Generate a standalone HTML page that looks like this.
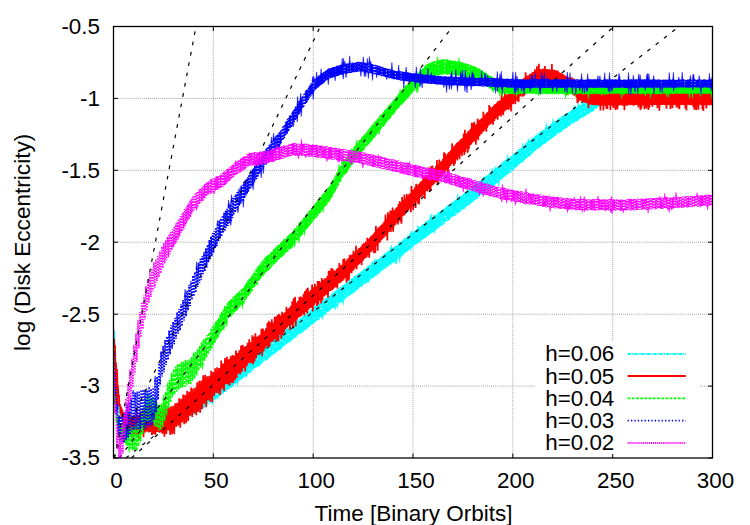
<!DOCTYPE html><html><head><meta charset="utf-8"><style>
html,body{margin:0;padding:0;background:#fff;}
#w{position:relative;width:750px;height:525px;overflow:hidden;background:#fff;font-family:"Liberation Sans",sans-serif;font-size:22.4px;color:#000;line-height:1;}
.t{position:absolute;white-space:nowrap;}
</style></head><body><div id="w">
<svg width="750" height="525" viewBox="0 0 750 525" style="position:absolute;left:0;top:0">
<rect width="750" height="525" fill="#fff"/>
<g stroke="#999" stroke-width="1" stroke-dasharray="0.9 1.13" fill="none">
<path d="M213.3,26.5 V458.0"/>
<path d="M313.2,26.5 V458.0"/>
<path d="M413.0,26.5 V458.0"/>
<path d="M512.8,26.5 V458.0"/>
<path d="M612.7,26.5 V458.0"/>
<path d="M113.5,98.4 H712.5"/>
<path d="M113.5,170.3 H712.5"/>
<path d="M113.5,242.2 H712.5"/>
<path d="M113.5,314.2 H712.5"/>
<path d="M113.5,386.1 H712.5"/>
</g>
<g stroke="#000" stroke-width="1" fill="none">
<path d="M113.5,458.0 v-4.5 M113.5,26.5 v4.5"/>
<path d="M213.3,458.0 v-4.5 M213.3,26.5 v4.5"/>
<path d="M313.2,458.0 v-4.5 M313.2,26.5 v4.5"/>
<path d="M413.0,458.0 v-4.5 M413.0,26.5 v4.5"/>
<path d="M512.8,458.0 v-4.5 M512.8,26.5 v4.5"/>
<path d="M612.7,458.0 v-4.5 M612.7,26.5 v4.5"/>
<path d="M712.5,458.0 v-4.5 M712.5,26.5 v4.5"/>
<path d="M113.5,26.5 h4.5 M712.5,26.5 h-4.5"/>
<path d="M113.5,98.4 h4.5 M712.5,98.4 h-4.5"/>
<path d="M113.5,170.3 h4.5 M712.5,170.3 h-4.5"/>
<path d="M113.5,242.2 h4.5 M712.5,242.2 h-4.5"/>
<path d="M113.5,314.2 h4.5 M712.5,314.2 h-4.5"/>
<path d="M113.5,386.1 h4.5 M712.5,386.1 h-4.5"/>
<path d="M113.5,458.0 h4.5 M712.5,458.0 h-4.5"/>
</g>
<clipPath id="c"><rect x="113.5" y="26.5" width="599.0" height="431.5"/></clipPath>
<g clip-path="url(#c)">
<path d="M113.5,329 L115,331 L116,352 L113.5,352 Z" fill="#00ffff"/>
<path d="M113.5,334.0 L114.0,337.4 L114.5,352.9 L115.0,356.9 L115.5,373.3 L116.0,376.7 L116.5,389.2 L117.0,389.5 L117.5,401.7 L118.0,401.8 L118.5,409.9 L119.0,405.3 L119.5,414.0 L120.0,409.0 L120.5,417.7 L121.0,412.5 L121.5,419.5 L122.0,412.8 L122.5,420.1 L123.0,413.3 L123.5,420.7 L124.0,413.5 L124.5,421.3 L125.0,414.2 L125.5,421.9 L126.0,414.2 L126.5,422.2 L127.0,414.9 L127.5,422.8 L128.0,414.8 L128.5,423.7 L129.0,415.4 L129.5,424.2 L130.0,415.6 L130.5,424.1 L131.0,416.0 L131.5,424.4 L132.0,415.7 L132.5,424.2 L133.0,415.8 L133.5,424.4 L134.0,415.6 L134.5,424.3 L135.0,415.6 L135.5,424.5 L136.0,415.1 L136.5,424.7 L137.0,415.5 L137.5,424.5 L138.0,415.3 L138.5,424.6 L139.0,415.4 L139.5,424.9 L140.0,415.4 L140.5,424.9 L141.0,415.1 L141.5,425.2 L142.0,414.8 L142.5,425.2 L143.0,414.7 L143.5,425.0 L144.0,414.7 L144.5,425.1 L145.0,414.7 L145.5,425.1 L146.0,414.8 L146.5,424.9 L147.0,414.9 L147.5,425.8 L148.0,414.8 L148.5,425.6 L149.0,414.4 L149.5,425.7 L150.0,414.5 L150.5,425.6 L151.0,414.6 L151.5,425.0 L152.0,414.3 L152.5,425.0 L153.0,414.2 L153.5,424.9 L154.0,413.5 L154.5,424.9 L155.0,412.9 L155.5,425.3 L156.0,413.1 L156.5,425.2 L157.0,413.2 L157.5,425.3 L158.0,412.4 L158.5,425.1 L159.0,412.5 L159.5,425.1 L160.0,412.0 L160.5,424.8 L161.0,411.7 L161.5,424.7 L162.0,412.0 L162.5,424.5 L163.0,412.0 L163.5,424.1 L164.0,411.2 L164.5,424.6 L165.0,410.7 L165.5,424.6 L166.0,411.0 L166.5,423.7 L167.0,410.8 L167.5,424.5 L168.0,410.3 L168.5,424.0 L169.0,410.4 L169.5,423.6 L170.0,410.5 L170.5,423.2 L171.0,409.1 L171.5,423.5 L172.0,409.3 L172.6,422.9 L173.1,408.8 L173.6,422.3 L174.2,407.4 L174.7,422.4 L175.3,407.0 L175.9,421.6 L176.5,406.1 L177.0,422.1 L177.6,405.7 L178.2,420.5 L178.9,405.4 L179.5,420.1 L180.1,403.5 L180.7,420.3 L181.4,402.9 L182.0,419.4 L182.7,402.9 L183.4,419.6 L184.0,401.2 L184.7,418.7 L185.4,401.6 L186.1,418.7 L186.8,400.5 L187.5,417.8 L188.2,400.0 L188.9,417.0 L189.6,398.2 L190.3,416.3 L191.0,398.2 L191.7,415.6 L192.4,397.7 L193.1,414.2 L193.8,396.6 L194.5,414.3 L195.2,396.2 L195.9,413.5 L196.6,394.6 L197.3,412.9 L198.0,394.4 L198.7,411.1 L199.4,393.9 L200.1,411.2 L200.8,391.9 L201.5,410.0 L202.2,391.6 L202.9,408.3 L203.6,390.1 L204.3,408.1 L205.0,390.2 L205.7,406.1 L206.4,388.1 L207.1,406.0 L207.7,387.9 L208.4,404.2 L209.1,386.7 L209.8,403.5 L210.5,386.2 L211.2,402.9 L211.8,384.6 L212.5,401.8 L213.2,384.1 L213.9,401.0 L214.6,382.4 L215.2,399.2 L215.9,381.2 L216.6,398.6 L217.2,380.3 L217.9,396.7 L218.6,380.5 L219.2,396.7 L219.9,379.2 L220.6,395.4 L221.2,378.4 L221.9,395.0 L222.6,377.0 L223.2,393.8 L223.9,376.6 L224.5,392.3 L225.2,375.7 L225.8,391.9 L226.5,374.3 L227.2,389.8 L227.8,373.8 L228.5,389.5 L229.1,372.9 L229.8,388.0 L230.4,371.4 L231.1,387.4 L231.7,370.2 L232.3,386.6 L233.0,369.5 L233.6,385.5 L234.3,368.8 L234.9,384.1 L235.6,366.9 L236.2,382.9 L236.9,366.7 L237.5,382.0 L238.2,365.4 L238.8,380.7 L239.4,365.0 L240.1,380.3 L240.7,363.8 L241.4,379.6 L242.0,362.0 L242.6,378.5 L243.3,361.1 L243.9,377.2 L244.6,361.0 L245.2,376.3 L245.8,359.6 L246.5,375.5 L247.1,358.9 L247.8,374.0 L248.4,357.1 L249.0,373.0 L249.7,356.6 L250.3,373.0 L250.9,355.8 L251.6,370.9 L252.2,354.3 L252.8,370.5 L253.5,353.4 L254.1,368.8 L254.7,352.7 L255.4,367.8 L256.0,352.0 L256.6,367.7 L257.3,351.3 L257.9,366.2 L258.5,349.1 L259.1,366.1 L259.8,348.8 L260.4,364.8 L261.0,347.6 L261.6,363.5 L262.3,346.4 L262.9,362.1 L263.5,345.5 L264.2,361.0 L264.8,344.5 L265.4,360.9 L266.0,344.1 L266.7,359.9 L267.3,343.1 L267.9,359.1 L268.5,342.6 L269.1,357.8 L269.8,340.7 L270.4,357.3 L271.0,340.6 L271.6,355.5 L272.2,338.8 L272.9,354.7 L273.5,338.9 L274.1,354.2 L274.7,337.5 L275.3,353.3 L276.0,336.5 L276.6,352.0 L277.2,335.6 L277.8,350.8 L278.4,334.1 L279.0,350.3 L279.6,333.3 L280.3,349.7 L280.9,333.1 L281.5,348.7 L282.1,331.3 L282.7,347.3 L283.3,330.8 L283.9,345.8 L284.5,329.6 L285.2,344.9 L285.8,329.0 L286.4,343.9 L287.0,328.6 L287.6,343.6 L288.2,327.2 L288.8,342.7 L289.4,325.8 L290.0,342.2 L290.6,325.8 L291.2,340.8 L291.8,324.3 L292.5,339.9 L293.1,323.4 L293.7,338.8 L294.3,322.1 L294.9,337.8 L295.5,321.6 L296.1,337.1 L296.7,321.2 L297.3,335.9 L297.9,320.3 L298.5,334.5 L299.1,319.5 L299.7,333.7 L300.3,318.3 L300.9,333.2 L301.5,316.9 L302.1,332.6 L302.7,316.1 L303.3,331.8 L303.9,315.3 L304.5,330.7 L305.1,314.2 L305.7,329.6 L306.3,313.7 L306.9,329.1 L307.5,312.1 L308.1,327.1 L308.7,311.5 L309.3,327.3 L309.9,311.2 L310.4,325.5 L311.0,309.4 L311.6,324.2 L312.2,308.5 L312.8,324.0 L313.4,307.6 L314.0,323.1 L314.6,306.4 L315.2,321.9 L315.8,306.0 L316.4,320.6 L317.0,305.1 L317.6,320.1 L318.2,303.7 L318.7,319.9 L319.3,303.8 L319.9,317.8 L320.5,303.0 L321.1,317.1 L321.7,301.3 L322.3,316.6 L322.9,300.6 L323.5,315.6 L324.1,300.4 L324.6,314.6 L325.2,298.3 L325.8,314.3 L326.4,297.9 L327.0,312.6 L327.6,296.6 L328.2,311.9 L328.7,296.0 L329.3,310.8 L329.9,295.5 L330.5,310.0 L331.1,294.5 L331.7,308.7 L332.3,293.3 L332.8,308.0 L333.4,292.5 L334.0,307.7 L334.6,291.5 L335.2,306.4 L335.8,291.1 L336.3,306.0 L336.9,290.1 L337.5,304.4 L338.1,288.5 L338.7,303.3 L339.2,287.7 L339.8,302.8 L340.4,287.4 L341.0,302.7 L341.6,286.5 L342.1,301.5 L342.7,285.6 L343.3,300.8 L343.9,284.4 L344.5,299.4 L345.0,284.3 L345.6,298.4 L346.2,282.9 L346.8,297.4 L347.3,282.0 L347.9,296.4 L348.5,281.2 L349.1,296.0 L349.6,280.1 L350.2,295.3 L350.8,279.1 L351.4,294.1 L351.9,278.6 L352.5,293.8 L353.1,277.9 L353.7,292.7 L354.2,276.2 L354.8,292.1 L355.4,275.9 L356.0,290.4 L356.5,275.0 L357.1,290.0 L357.7,274.2 L358.2,288.7 L358.8,273.4 L359.4,287.5 L360.0,272.8 L360.5,286.7 L361.1,271.5 L361.7,286.9 L362.2,271.2 L362.8,284.9 L363.4,269.7 L363.9,284.4 L364.5,269.1 L365.1,283.2 L365.6,268.6 L366.2,283.1 L366.8,267.3 L367.3,282.4 L367.9,266.0 L368.5,280.9 L369.0,265.5 L369.6,280.2 L370.2,264.8 L370.7,279.3 L371.3,263.4 L371.9,278.7 L372.4,263.6 L373.0,277.9 L373.6,261.7 L374.1,277.3 L374.7,261.4 L375.2,275.4 L375.8,260.3 L376.4,275.7 L376.9,259.5 L377.5,274.2 L378.1,259.1 L378.6,273.8 L379.2,258.6 L379.7,273.0 L380.3,257.3 L380.9,271.2 L381.4,256.1 L382.0,270.8 L382.5,256.1 L383.1,269.7 L383.7,254.4 L384.2,268.8 L384.8,253.6 L385.3,268.8 L385.9,253.6 L386.4,267.5 L387.0,252.0 L387.6,266.7 L388.1,251.0 L388.7,265.7 L389.2,250.5 L389.8,264.7 L390.3,249.4 L390.9,264.6 L391.4,248.9 L392.0,263.2 L392.5,248.4 L393.1,262.7 L393.7,247.8 L394.2,261.7 L394.8,246.8 L395.3,260.7 L395.9,245.9 L396.4,260.4 L397.0,245.3 L397.5,258.9 L398.1,244.5 L398.6,257.8 L399.2,243.4 L399.7,258.0 L400.3,241.9 L400.8,256.7 L401.4,241.6 L401.9,256.2 L402.5,240.5 L403.0,254.9 L403.6,239.5 L404.1,253.4 L404.7,238.3 L405.2,252.5 L405.8,237.8 L406.3,252.6 L406.9,236.8 L407.4,251.0 L408.0,235.7 L408.6,250.7 L409.1,234.9 L409.7,248.8 L410.2,233.6 L410.8,247.8 L411.3,232.9 L411.9,248.0 L412.4,232.7 L413.0,246.7 L413.6,231.2 L414.1,245.4 L414.7,230.9 L415.2,244.5 L415.8,230.1 L416.3,243.7 L416.9,229.1 L417.5,243.6 L418.0,227.8 L418.6,242.8 L419.1,227.0 L419.7,242.0 L420.3,226.8 L420.8,240.9 L421.4,226.1 L421.9,240.0 L422.5,224.2 L423.1,239.1 L423.6,224.1 L424.2,238.1 L424.7,223.1 L425.3,238.0 L425.9,221.5 L426.4,237.0 L427.0,220.7 L427.6,236.1 L428.1,220.7 L428.7,234.9 L429.3,219.3 L429.8,234.4 L430.4,218.5 L430.9,233.3 L431.5,218.3 L432.1,233.0 L432.6,217.4 L433.2,232.2 L433.8,216.6 L434.3,231.4 L434.9,215.4 L435.5,230.3 L436.0,215.0 L436.6,229.0 L437.2,213.9 L437.8,228.5 L438.3,212.5 L438.9,227.3 L439.5,211.6 L440.0,227.1 L440.6,211.5 L441.2,225.8 L441.7,209.9 L442.3,225.0 L442.9,209.6 L443.5,224.4 L444.0,208.7 L444.6,223.5 L445.2,207.6 L445.7,221.8 L446.3,206.3 L446.9,220.9 L447.5,205.5 L448.0,220.7 L448.6,204.5 L449.2,220.1 L449.8,204.2 L450.3,218.4 L450.9,203.5 L451.5,217.4 L452.1,202.2 L452.6,216.6 L453.2,201.9 L453.8,216.0 L454.4,200.7 L454.9,215.6 L455.5,199.8 L456.1,214.6 L456.7,199.4 L457.3,213.5 L457.8,198.4 L458.4,213.1 L459.0,197.7 L459.6,212.1 L460.1,196.0 L460.7,211.1 L461.3,195.9 L461.9,209.9 L462.5,194.7 L463.1,209.0 L463.6,193.8 L464.2,209.0 L464.8,192.2 L465.4,207.9 L466.0,191.4 L466.5,206.4 L467.1,190.2 L467.7,205.6 L468.3,190.2 L468.9,205.0 L469.5,189.2 L470.0,204.2 L470.6,187.7 L471.2,202.6 L471.8,187.1 L472.4,202.3 L473.0,185.9 L473.6,201.1 L474.2,185.6 L474.7,199.9 L475.3,184.0 L475.9,199.2 L476.5,183.1 L477.1,198.6 L477.7,182.6 L478.3,196.9 L478.9,181.3 L479.4,196.3 L480.0,180.5 L480.6,195.1 L481.2,180.1 L481.8,194.6 L482.4,178.5 L483.0,193.3 L483.6,177.4 L484.2,193.3 L484.8,176.6 L485.4,192.2 L485.9,176.2 L486.5,190.5 L487.1,175.2 L487.7,189.6 L488.3,174.1 L488.9,189.5 L489.5,173.4 L490.1,188.6 L490.7,172.2 L491.3,186.8 L491.9,171.0 L492.5,186.3 L493.1,170.5 L493.7,185.4 L494.3,168.7 L494.9,184.8 L495.5,168.6 L496.1,184.1 L496.7,167.8 L497.3,182.5 L497.9,166.6 L498.5,182.3 L499.1,166.2 L499.7,180.9 L500.3,164.5 L500.9,179.3 L501.5,163.4 L502.1,179.2 L502.7,162.3 L503.3,177.3 L503.9,161.4 L504.4,176.7 L505.0,160.3 L505.6,176.0 L506.2,160.4 L506.8,175.2 L507.4,158.8 L508.0,173.9 L508.6,157.8 L509.2,172.9 L509.8,157.6 L510.4,172.6 L511.0,156.4 L511.5,170.8 L512.1,155.7 L512.7,170.4 L513.3,153.7 L513.9,169.1 L514.5,152.8 L515.1,167.9 L515.6,152.4 L516.2,166.9 L516.8,151.5 L517.4,166.2 L518.0,150.5 L518.6,164.6 L519.1,149.1 L519.7,163.9 L520.3,148.5 L520.9,162.8 L521.5,148.0 L522.0,162.4 L522.6,146.6 L523.2,161.7 L523.8,146.1 L524.3,160.6 L524.9,145.2 L525.5,158.9 L526.1,144.2 L526.6,158.3 L527.2,142.9 L527.8,157.1 L528.3,141.2 L528.9,156.4 L529.5,140.3 L530.0,155.9 L530.6,140.1 L531.2,154.6 L531.8,139.3 L532.3,153.3 L532.9,137.7 L533.4,152.6 L534.0,137.5 L534.6,151.0 L535.1,135.8 L535.7,150.8 L536.3,135.0 L536.8,149.3 L537.4,133.9 L537.9,148.8 L538.5,133.7 L539.1,147.3 L539.6,132.2 L540.2,147.4 L540.7,131.5 L541.3,145.7 L541.9,130.5 L542.4,144.8 L543.0,129.8 L543.5,144.3 L544.1,129.8 L544.6,143.6 L545.2,128.4 L545.7,143.3 L546.3,127.4 L546.8,141.7 L547.4,126.7 L547.9,140.9 L548.5,125.9 L549.0,140.5 L549.6,125.2 L550.1,139.2 L550.7,124.3 L551.2,138.8 L551.8,123.5 L552.3,137.4 L552.8,122.7 L553.4,137.7 L553.9,122.1 L554.5,136.0 L555.0,121.0 L555.6,135.7 L556.1,121.0 L556.6,135.0 L557.2,119.5 L557.7,133.6 L558.3,119.1 L558.8,133.4 L559.3,117.9 L559.9,131.9 L560.4,117.7 L560.9,132.0 L561.5,116.7 L562.0,131.3 L562.5,116.0 L563.1,130.3 L563.6,115.3 L564.1,129.0 L564.7,114.2 L565.2,128.6 L565.7,114.5 L566.3,128.2 L566.8,112.9 L567.3,127.2 L567.9,112.9 L568.4,126.5 L568.9,111.9 L569.4,126.0 L570.0,111.4 L570.5,124.7 L571.0,110.8 L571.5,123.7 L572.1,109.9 L572.6,123.8 L573.1,109.2 L573.6,122.7 L574.2,107.9 L574.7,122.5 L575.2,107.2 L575.7,121.3 L576.2,107.5 L576.8,121.4 L577.3,107.0 L577.8,120.6 L578.3,105.4 L578.8,119.8 L579.3,105.1 L579.9,118.8 L580.4,104.8 L580.9,117.8 L581.4,104.1 L581.9,117.6 L582.4,103.6 L582.9,117.5 L583.5,102.1 L584.0,116.1 L584.5,102.0 L585.0,116.1 L585.5,101.4 L586.0,114.9 L586.5,100.5 L587.0,114.4 L587.5,100.1 L588.0,114.1 L588.5,99.9 L589.0,113.3 L589.5,99.3 L590.1,112.7 L590.6,98.7 L591.1,112.2 L591.6,98.0 L592.1,111.8 L592.6,97.6 L593.1,110.9 L593.6,96.2 L594.1,110.4 L594.6,96.0 L595.1,109.2 L595.6,95.5 L596.1,108.6 L596.6,94.3 L597.1,107.4 L597.6,93.8 L598.1,106.9 L598.6,93.1 L599.1,105.1 L599.6,92.8 L600.1,104.9 L600.6,91.7 L601.1,103.8 L601.6,91.1 L602.1,102.4 L602.6,90.0 L603.1,101.9 L603.6,89.9 L604.1,101.5 L604.6,90.0 L605.1,101.6 L605.6,88.9 L606.1,100.3 L606.6,89.5 L607.1,100.2 L607.6,88.4 L608.1,99.8 L608.6,88.3 L609.1,99.3 L609.6,88.4 L610.1,99.3 L610.6,88.0 L611.1,98.4 L611.6,88.0 L612.1,98.3 L612.6,87.8 L613.1,97.5 L613.6,87.7 L614.1,97.5 L614.6,87.4 L615.1,96.6 L615.6,87.3 L616.1,97.3 L616.6,86.7 L617.1,96.9 L617.6,87.3 L618.1,96.9 L618.6,86.8 L619.1,97.0 L619.6,86.8 L620.1,97.2 L620.6,86.8 L621.1,97.2 L621.6,87.1 L622.1,96.6 L622.6,86.9 L623.1,97.3 L623.6,87.0 L624.1,96.7 L624.6,86.8 L625.1,97.2 L625.6,86.8 L626.1,97.0 L626.6,86.7 L627.1,96.7 L627.6,87.0 L628.1,97.3 L628.6,86.7 L629.1,97.1 L629.6,87.0 L630.1,97.0 L630.6,87.2 L631.1,96.7 L631.6,86.8 L632.1,97.0 L632.6,87.2 L633.1,96.8 L633.6,87.4 L634.1,96.6 L634.6,87.0 L635.1,96.7 L635.6,87.2 L636.1,97.2 L636.6,87.4 L637.1,97.3 L637.6,87.2 L638.1,97.2 L638.6,86.8 L639.1,97.0 L639.6,87.5 L640.1,97.0 L640.6,87.1 L641.1,96.7 L641.6,87.1 L642.1,97.0 L642.6,87.2 L643.1,96.8 L643.6,87.3 L644.1,96.6 L644.6,87.0 L645.1,97.3 L645.6,87.4 L646.1,97.0 L646.6,87.0 L647.1,97.1 L647.6,87.2 L648.1,96.7 L648.6,87.3 L649.1,97.2 L649.6,86.8 L650.1,97.2 L650.6,87.3 L651.1,96.8 L651.6,87.3 L652.1,97.0 L652.6,87.3 L653.1,97.1 L653.6,86.9 L654.1,96.9 L654.6,87.4 L655.1,96.7 L655.6,87.0 L656.1,97.1 L656.6,87.3 L657.1,97.0 L657.6,86.8 L658.1,97.1 L658.6,86.8 L659.1,97.3 L659.6,87.3 L660.1,96.7 L660.6,86.8 L661.1,96.8 L661.6,87.4 L662.1,97.0 L662.6,87.1 L663.1,96.7 L663.6,86.8 L664.1,96.9 L664.6,86.7 L665.1,96.7 L665.6,87.5 L666.1,97.2 L666.6,87.3 L667.1,97.2 L667.6,87.1 L668.1,97.1 L668.6,87.4 L669.1,96.7 L669.6,87.0 L670.1,97.3 L670.6,86.8 L671.1,97.2 L671.6,86.9 L672.1,97.3 L672.6,87.3 L673.1,96.6 L673.6,87.3 L674.1,97.0 L674.6,87.2 L675.1,96.5 L675.6,87.4 L676.1,96.7 L676.6,87.2 L677.1,96.8 L677.6,87.0 L678.1,97.0 L678.6,86.8 L679.1,96.8 L679.6,86.7 L680.1,96.8 L680.6,87.2 L681.1,96.8 L681.6,86.9 L682.1,97.1 L682.6,87.2 L683.1,96.8 L683.6,87.4 L684.1,96.7 L684.6,87.4 L685.1,96.8 L685.6,87.3 L686.1,97.0 L686.6,86.9 L687.1,96.9 L687.6,87.1 L688.1,96.8 L688.6,86.7 L689.1,97.3 L689.6,87.0 L690.1,97.2 L690.6,87.2 L691.1,97.0 L691.6,87.2 L692.1,97.3 L692.6,87.0 L693.1,97.2 L693.6,87.0 L694.1,96.6 L694.6,87.3 L695.1,97.0 L695.6,86.8 L696.1,97.0 L696.6,87.2 L697.1,97.0 L697.6,87.0 L698.1,97.3 L698.6,87.0 L699.1,96.5 L699.6,86.7 L700.1,96.6 L700.6,87.2 L701.1,97.3 L701.6,87.0 L702.1,97.0 L702.6,87.2 L703.1,96.8 L703.6,87.3 L704.1,97.1 L704.6,87.2 L705.1,96.6 L705.6,87.3 L706.1,96.6 L706.6,86.8 L707.1,96.7 L707.6,87.3 L708.1,97.0 L708.6,87.3 L709.1,97.1 L709.6,87.0 L710.1,97.0 L710.6,87.1 L711.1,96.8 L711.6,87.1 L712.1,97.1 L712.6,87.5" fill="none" stroke="#00ffff" stroke-width="1.5" stroke-linejoin="miter" stroke-miterlimit="2" stroke-dasharray="5 1.2 1.2 1.2"/><path d="M125.3,415.2 L126.0,410.0 L126.7,415.2ZM126.3,415.9 L127.0,413.1 L127.7,415.9ZM131.8,423.2 L132.5,428.0 L133.2,423.2ZM153.8,423.9 L154.5,429.6 L155.2,423.9ZM158.8,424.1 L159.5,428.5 L160.2,424.1ZM159.8,423.8 L160.5,427.8 L161.2,423.8ZM160.3,412.7 L161.0,407.5 L161.7,412.7ZM161.3,413.0 L162.0,410.0 L162.7,413.0ZM166.3,411.8 L167.0,405.9 L167.7,411.8ZM175.8,407.1 L176.5,403.4 L177.2,407.1ZM180.7,403.9 L181.4,400.4 L182.1,403.9ZM209.8,387.2 L210.5,383.1 L211.2,387.2ZM211.8,400.8 L212.5,405.1 L213.2,400.8ZM217.2,395.7 L217.9,398.6 L218.6,395.7ZM219.2,380.2 L219.9,374.8 L220.6,380.2ZM232.3,370.5 L233.0,365.8 L233.7,370.5ZM236.8,381.0 L237.5,386.0 L238.2,381.0ZM245.8,374.5 L246.5,377.6 L247.2,374.5ZM250.2,356.8 L250.9,351.8 L251.6,356.8ZM264.1,345.5 L264.8,342.7 L265.5,345.5ZM289.9,326.8 L290.6,324.3 L291.3,326.8ZM321.6,315.6 L322.3,319.7 L323.0,315.6ZM334.5,305.4 L335.2,309.8 L335.9,305.4ZM336.8,303.4 L337.5,308.2 L338.2,303.4ZM342.6,299.8 L343.3,304.9 L344.0,299.8ZM367.8,279.9 L368.5,283.0 L369.2,279.9ZM371.7,264.6 L372.4,260.8 L373.1,264.6ZM374.0,262.4 L374.7,259.1 L375.4,262.4ZM389.6,250.4 L390.3,247.3 L391.0,250.4ZM390.7,249.9 L391.4,244.8 L392.1,249.9ZM394.6,259.7 L395.3,264.0 L396.0,259.7ZM395.7,259.4 L396.4,264.0 L397.1,259.4ZM398.5,244.4 L399.2,241.6 L399.9,244.4ZM399.0,257.0 L399.7,262.9 L400.4,257.0ZM410.1,246.8 L410.8,250.4 L411.5,246.8ZM410.6,233.9 L411.3,230.6 L412.0,233.9ZM417.3,228.8 L418.0,225.5 L418.7,228.8ZM429.7,219.5 L430.4,214.8 L431.1,219.5ZM430.8,219.3 L431.5,213.9 L432.2,219.3ZM433.1,217.6 L433.8,214.5 L434.5,217.6ZM433.6,230.4 L434.3,233.4 L435.0,230.4ZM457.1,199.4 L457.8,193.9 L458.5,199.4ZM491.2,172.0 L491.9,168.0 L492.6,172.0ZM493.0,184.4 L493.7,187.0 L494.4,184.4ZM494.8,169.6 L495.5,166.4 L496.2,169.6ZM497.8,181.3 L498.5,186.2 L499.2,181.3ZM506.7,159.8 L507.4,154.6 L508.1,159.8ZM521.9,147.6 L522.6,143.1 L523.3,147.6ZM525.4,145.2 L526.1,142.7 L526.8,145.2ZM527.6,142.2 L528.3,138.9 L529.0,142.2ZM531.1,140.3 L531.8,137.7 L532.5,140.3ZM545.6,128.4 L546.3,122.5 L547.0,128.4ZM552.1,123.7 L552.8,118.6 L553.5,123.7ZM573.5,108.9 L574.2,105.2 L574.9,108.9ZM577.6,106.4 L578.3,102.2 L579.0,106.4ZM602.9,90.9 L603.6,85.9 L604.3,90.9ZM604.9,89.9 L605.6,86.0 L606.3,89.9ZM605.4,99.3 L606.1,103.4 L606.8,99.3ZM616.4,95.9 L617.1,100.1 L617.8,95.9ZM620.4,96.2 L621.1,101.0 L621.8,96.2ZM629.9,88.2 L630.6,83.4 L631.3,88.2ZM636.4,96.3 L637.1,100.6 L637.8,96.3ZM648.9,87.8 L649.6,82.4 L650.3,87.8ZM652.9,87.9 L653.6,83.0 L654.3,87.9ZM655.9,88.3 L656.6,85.3 L657.3,88.3ZM660.9,88.4 L661.6,84.2 L662.3,88.4ZM665.4,96.2 L666.1,99.3 L666.8,96.2ZM670.9,87.9 L671.6,83.3 L672.3,87.9ZM680.9,87.9 L681.6,84.2 L682.3,87.9ZM683.9,88.4 L684.6,83.0 L685.3,88.4ZM686.9,88.1 L687.6,83.1 L688.3,88.1ZM691.4,96.3 L692.1,98.8 L692.8,96.3ZM691.9,88.0 L692.6,82.4 L693.3,88.0ZM696.9,88.0 L697.6,84.3 L698.3,88.0ZM698.4,95.5 L699.1,99.8 L699.8,95.5ZM699.4,95.6 L700.1,101.5 L700.8,95.6ZM711.9,88.5 L712.6,85.9 L713.3,88.5Z" fill="#00ffff" stroke="#00ffff" stroke-width="0.5"/>
<path d="M125.8,458.0 L679.0,26.5" stroke="#000" stroke-width="1.2" stroke-dasharray="3.7 6.8" fill="none"/>
<path d="M113.5,338 L114.6,340 L116,366 L118,389 L119,405 L113.5,405 Z" fill="#ff0000"/>
<path d="M113.5,346.1 L114.0,338.9 L114.5,351.2 L115.0,345.1 L115.5,368.5 L116.0,362.6 L116.5,374.9 L117.0,369.0 L117.5,386.9 L118.0,385.4 L118.5,397.7 L119.0,394.8 L119.5,406.9 L120.0,404.0 L120.5,413.6 L121.0,406.6 L121.5,418.9 L122.0,408.7 L122.5,420.7 L123.0,411.5 L123.5,426.9 L124.0,413.6 L124.5,432.0 L125.0,414.2 L125.5,429.2 L126.0,415.6 L126.6,430.1 L127.1,416.4 L127.7,432.3 L128.3,411.7 L129.0,433.9 L129.6,412.7 L130.2,434.8 L130.9,417.9 L131.5,437.5 L132.2,418.1 L132.9,440.2 L133.6,414.7 L134.3,434.3 L135.0,416.7 L135.7,434.9 L136.5,409.4 L137.2,434.7 L138.0,415.8 L138.7,439.1 L139.5,413.9 L140.3,433.3 L141.1,412.0 L141.9,433.6 L142.7,409.0 L143.5,437.2 L144.4,408.7 L145.2,432.5 L146.0,406.8 L146.8,431.4 L147.7,411.2 L148.5,432.4 L149.3,404.9 L150.2,432.0 L151.0,405.4 L151.9,435.2 L152.8,411.1 L153.6,434.0 L154.5,405.7 L155.4,434.9 L156.2,409.7 L157.1,432.0 L158.0,410.7 L158.9,432.2 L159.8,409.5 L160.7,432.4 L161.6,406.9 L162.5,433.8 L163.4,408.7 L164.4,436.8 L165.3,405.2 L166.3,433.9 L167.3,408.6 L168.2,430.4 L169.2,407.4 L170.2,434.9 L171.2,406.4 L172.2,434.1 L173.2,405.8 L174.2,434.2 L175.2,403.3 L176.2,426.6 L177.2,402.7 L178.2,425.7 L179.2,398.3 L180.2,427.7 L181.2,398.8 L182.2,422.5 L183.2,394.6 L184.2,424.1 L185.2,394.8 L186.2,423.3 L187.2,390.9 L188.2,420.9 L189.2,391.9 L190.2,415.7 L191.2,387.5 L192.2,417.0 L193.2,388.5 L194.2,413.1 L195.2,387.5 L196.2,415.2 L197.2,382.2 L198.2,411.9 L199.2,380.8 L200.2,412.7 L201.2,380.5 L202.2,408.9 L203.2,375.3 L204.2,403.6 L205.2,374.8 L206.2,407.2 L207.2,376.2 L208.2,400.3 L209.2,375.7 L210.2,401.6 L211.2,370.9 L212.2,402.3 L213.2,372.1 L214.2,395.8 L215.2,368.2 L216.2,393.0 L217.2,367.4 L218.2,393.4 L219.2,368.1 L220.2,395.0 L221.2,360.5 L222.2,388.6 L223.1,363.5 L224.1,391.2 L225.0,358.0 L226.0,384.0 L226.9,356.9 L227.8,384.5 L228.8,359.2 L229.7,385.7 L230.6,356.4 L231.5,382.6 L232.4,354.9 L233.2,383.0 L234.1,355.7 L235.0,380.1 L235.9,350.5 L236.7,378.0 L237.6,353.0 L238.5,373.4 L239.3,350.2 L240.2,374.3 L241.0,345.4 L241.8,371.9 L242.7,344.8 L243.5,368.1 L244.3,346.9 L245.2,371.5 L246.0,346.1 L246.8,366.2 L247.6,342.8 L248.4,363.2 L249.2,339.3 L250.0,362.6 L250.8,342.4 L251.6,363.3 L252.3,335.3 L253.1,364.2 L253.9,336.8 L254.6,361.4 L255.4,333.2 L256.2,358.2 L256.9,336.9 L257.7,354.9 L258.4,335.7 L259.2,352.6 L259.9,334.8 L260.7,351.6 L261.4,328.7 L262.2,356.2 L262.9,328.6 L263.7,351.4 L264.4,330.7 L265.1,348.2 L265.9,328.4 L266.6,346.0 L267.4,322.9 L268.1,347.6 L268.8,320.9 L269.6,346.8 L270.3,322.4 L271.1,342.2 L271.8,319.4 L272.5,341.7 L273.3,322.5 L274.0,340.2 L274.7,316.7 L275.5,338.9 L276.2,316.5 L276.9,340.7 L277.7,315.1 L278.4,341.5 L279.1,313.9 L279.9,334.1 L280.6,315.6 L281.3,338.6 L282.1,311.9 L282.8,334.9 L283.5,313.2 L284.2,332.3 L285.0,312.2 L285.7,329.1 L286.4,306.7 L287.1,327.5 L287.9,309.1 L288.6,325.9 L289.3,307.7 L290.0,330.1 L290.8,306.0 L291.5,324.8 L292.2,301.4 L292.9,327.2 L293.6,298.3 L294.4,322.1 L295.1,296.8 L295.8,326.4 L296.5,302.7 L297.2,319.5 L297.9,301.1 L298.6,317.4 L299.4,296.7 L300.1,316.8 L300.8,296.5 L301.5,315.9 L302.2,297.6 L302.9,313.9 L303.6,293.7 L304.3,315.5 L305.0,290.9 L305.8,311.9 L306.5,288.9 L307.2,313.4 L307.9,287.7 L308.6,309.7 L309.3,291.7 L310.0,308.0 L310.7,290.0 L311.4,307.8 L312.1,284.5 L312.8,311.6 L313.5,287.2 L314.2,305.3 L314.9,283.8 L315.6,303.3 L316.3,286.2 L317.0,305.9 L317.7,281.1 L318.4,304.5 L319.1,281.0 L319.8,300.5 L320.5,282.3 L321.1,303.6 L321.8,278.0 L322.5,300.4 L323.2,280.1 L323.9,296.4 L324.6,278.3 L325.2,295.2 L325.9,278.3 L326.6,294.7 L327.3,276.1 L328.0,297.7 L328.6,270.8 L329.3,291.3 L330.0,270.9 L330.7,290.9 L331.3,268.0 L332.0,290.1 L332.7,268.8 L333.3,289.0 L334.0,270.6 L334.7,287.8 L335.3,270.5 L336.0,286.6 L336.7,268.9 L337.3,288.5 L338.0,268.1 L338.6,283.4 L339.3,263.0 L340.0,282.9 L340.6,265.3 L341.3,281.9 L341.9,264.9 L342.6,280.9 L343.2,258.9 L343.9,279.5 L344.5,258.5 L345.2,277.7 L345.8,261.3 L346.5,282.6 L347.1,259.4 L347.7,280.9 L348.4,258.0 L349.0,279.8 L349.7,254.8 L350.3,272.7 L351.0,255.4 L351.6,273.3 L352.2,254.3 L352.9,270.9 L353.5,250.8 L354.1,269.5 L354.8,252.7 L355.4,267.8 L356.0,245.7 L356.7,269.3 L357.3,250.2 L357.9,265.2 L358.6,248.4 L359.2,264.1 L359.8,247.8 L360.5,262.9 L361.1,246.8 L361.7,265.1 L362.3,244.6 L363.0,260.7 L363.6,243.4 L364.2,258.9 L364.8,243.1 L365.4,257.9 L366.1,241.3 L366.7,257.5 L367.3,237.7 L367.9,255.1 L368.5,238.7 L369.2,257.7 L369.8,237.9 L370.4,252.1 L371.0,236.0 L371.6,251.8 L372.2,235.4 L372.8,250.2 L373.4,233.9 L374.0,253.2 L374.7,232.0 L375.3,252.9 L375.9,225.9 L376.5,245.8 L377.1,229.1 L377.7,250.8 L378.3,227.5 L378.9,243.2 L379.5,226.8 L380.1,242.3 L380.7,225.5 L381.3,240.3 L381.9,224.6 L382.5,239.0 L383.1,223.4 L383.7,237.7 L384.3,221.3 L384.9,236.5 L385.5,214.4 L386.1,235.2 L386.7,218.6 L387.3,240.4 L387.9,212.3 L388.5,232.3 L389.1,214.5 L389.7,231.1 L390.2,210.5 L390.8,232.1 L391.4,210.8 L392.0,229.2 L392.6,207.6 L393.2,231.7 L393.8,210.5 L394.4,226.0 L395.0,209.5 L395.6,224.8 L396.2,207.8 L396.8,223.0 L397.4,206.8 L398.0,224.5 L398.5,204.0 L399.1,220.3 L399.7,201.2 L400.3,221.7 L400.9,202.6 L401.5,223.8 L402.1,197.1 L402.7,216.2 L403.3,200.2 L403.9,215.6 L404.4,194.5 L405.0,214.5 L405.6,198.3 L406.2,212.4 L406.8,194.0 L407.4,210.9 L408.0,195.7 L408.5,210.4 L409.1,194.3 L409.7,208.5 L410.3,193.0 L410.9,212.3 L411.5,186.0 L412.1,206.7 L412.6,189.8 L413.2,210.1 L413.8,189.5 L414.4,203.1 L415.0,187.2 L415.6,207.9 L416.1,183.9 L416.7,200.8 L417.3,185.5 L417.9,203.4 L418.5,184.2 L419.0,204.6 L419.6,183.3 L420.2,197.8 L420.8,181.6 L421.4,196.9 L421.9,181.0 L422.5,195.6 L423.1,176.5 L423.7,194.7 L424.3,175.2 L424.8,199.0 L425.4,177.0 L426.0,191.3 L426.6,175.9 L427.2,191.2 L427.7,175.1 L428.3,189.0 L428.9,167.6 L429.5,191.5 L430.1,172.1 L430.6,190.9 L431.2,166.0 L431.8,185.9 L432.4,165.5 L433.0,184.9 L433.5,168.4 L434.1,183.8 L434.7,168.2 L435.3,182.4 L435.9,166.0 L436.4,181.9 L437.0,160.1 L437.6,185.0 L438.2,164.7 L438.8,178.5 L439.3,159.6 L439.9,177.5 L440.5,161.8 L441.1,176.5 L441.7,161.1 L442.2,175.5 L442.8,159.1 L443.4,174.3 L444.0,152.3 L444.6,172.1 L445.1,153.4 L445.7,170.7 L446.3,155.8 L446.9,170.2 L447.5,153.9 L448.0,173.3 L448.6,152.2 L449.2,167.4 L449.8,151.6 L450.4,165.6 L450.9,150.2 L451.5,164.1 L452.1,143.4 L452.7,163.2 L453.3,147.6 L453.8,166.0 L454.4,145.8 L455.0,163.9 L455.6,144.6 L456.2,158.9 L456.7,143.0 L457.3,160.4 L457.9,142.0 L458.5,156.4 L459.1,141.2 L459.6,159.2 L460.2,139.9 L460.8,154.0 L461.4,138.7 L462.0,156.1 L462.5,137.9 L463.1,151.6 L463.7,133.5 L464.3,154.9 L464.9,129.8 L465.4,152.2 L466.0,134.2 L466.6,148.4 L467.2,133.0 L467.8,152.8 L468.3,131.1 L468.9,149.1 L469.5,130.2 L470.1,145.3 L470.7,128.8 L471.2,144.5 L471.8,122.8 L472.4,142.7 L473.0,123.4 L473.6,141.7 L474.1,121.9 L474.7,141.0 L475.3,124.7 L475.9,144.8 L476.5,124.0 L477.0,138.4 L477.6,118.6 L478.2,140.3 L478.8,120.5 L479.4,136.3 L479.9,119.9 L480.5,134.4 L481.1,118.9 L481.7,133.8 L482.3,117.8 L482.8,131.9 L483.4,111.9 L484.0,130.9 L484.6,115.2 L485.1,129.3 L485.7,114.3 L486.3,131.7 L486.9,112.7 L487.4,127.7 L488.0,111.9 L488.6,125.6 L489.2,105.1 L489.7,124.8 L490.3,106.7 L490.9,123.6 L491.4,108.2 L492.0,122.6 L492.6,106.8 L493.1,124.8 L493.7,105.5 L494.3,120.9 L494.8,104.3 L495.4,119.0 L496.0,103.8 L496.5,117.8 L497.1,102.5 L497.7,119.8 L498.2,100.9 L498.8,116.0 L499.4,100.7 L499.9,115.1 L500.5,100.2 L501.0,116.5 L501.6,92.9 L502.2,113.6 L502.7,97.8 L503.3,115.3 L503.8,96.4 L504.4,111.5 L504.9,89.5 L505.5,110.1 L506.1,95.3 L506.6,109.9 L507.2,94.6 L507.7,108.9 L508.3,93.8 L508.8,109.7 L509.4,91.8 L509.9,106.9 L510.5,91.0 L511.0,111.6 L511.6,90.2 L512.1,104.2 L512.7,88.9 L513.2,103.9 L513.8,88.3 L514.3,102.3 L514.9,87.4 L515.4,104.2 L515.9,86.2 L516.5,99.7 L517.0,80.6 L517.6,101.0 L518.1,81.5 L518.6,102.1 L519.2,82.9 L519.7,96.8 L520.3,82.1 L520.8,96.3 L521.3,80.8 L521.9,94.2 L522.4,79.6 L522.9,96.7 L523.4,78.5 L524.0,95.8 L524.5,77.6 L525.0,94.5 L525.6,72.3 L526.1,90.4 L526.6,76.4 L527.1,90.8 L527.6,75.6 L528.2,91.9 L528.7,75.5 L529.2,89.2 L529.7,74.0 L530.2,88.6 L530.8,74.1 L531.3,87.1 L531.8,73.0 L532.3,86.9 L532.8,72.1 L533.3,86.3 L533.8,71.9 L534.4,89.9 L534.9,69.3 L535.4,90.6 L535.9,70.9 L536.4,84.8 L536.9,66.3 L537.4,85.8 L537.9,69.5 L538.4,83.9 L538.9,63.7 L539.4,83.6 L539.9,69.8 L540.4,85.9 L540.9,69.1 L541.4,88.3 L541.9,69.7 L542.4,83.1 L542.9,68.7 L543.4,82.3 L543.9,68.6 L544.4,87.5 L544.9,66.1 L545.4,82.3 L545.9,69.0 L546.4,82.5 L546.9,69.0 L547.4,84.4 L547.9,69.5 L548.4,82.3 L548.9,69.3 L549.4,82.7 L549.9,69.5 L550.4,86.8 L550.9,69.8 L551.4,86.4 L551.9,63.9 L552.4,83.0 L552.9,70.0 L553.4,83.2 L553.9,69.9 L554.4,83.9 L554.9,70.4 L555.4,83.1 L555.9,70.3 L556.4,83.6 L556.9,70.5 L557.4,89.3 L557.9,70.9 L558.4,85.1 L558.9,72.4 L559.4,86.0 L559.9,72.7 L560.4,92.2 L560.9,72.8 L561.4,90.0 L561.9,73.7 L562.4,89.8 L562.9,73.9 L563.4,92.3 L563.9,75.1 L564.4,88.0 L564.9,75.8 L565.4,92.6 L565.9,75.7 L566.4,93.4 L566.9,76.6 L567.4,94.7 L567.9,77.0 L568.4,90.5 L568.9,77.8 L569.4,91.1 L569.9,78.4 L570.4,92.1 L570.9,79.7 L571.4,93.8 L571.9,77.2 L572.4,93.7 L572.9,81.5 L573.4,95.1 L573.9,78.6 L574.4,95.4 L574.9,80.8 L575.4,96.1 L575.9,84.4 L576.4,97.1 L576.9,84.7 L577.4,103.3 L577.9,86.1 L578.4,102.0 L578.9,86.4 L579.4,99.9 L579.9,87.7 L580.4,100.6 L580.9,87.7 L581.4,100.6 L581.9,88.7 L582.4,101.3 L582.9,89.0 L583.4,102.2 L583.9,88.9 L584.4,102.6 L584.9,89.4 L585.4,102.6 L585.9,89.7 L586.4,102.7 L586.9,89.8 L587.4,103.3 L587.9,90.3 L588.4,108.3 L588.9,88.5 L589.4,103.8 L589.9,89.7 L590.4,104.8 L590.9,87.5 L591.4,104.1 L591.9,88.4 L592.4,105.0 L592.9,92.3 L593.4,104.4 L593.9,92.5 L594.4,105.2 L594.9,91.7 L595.4,105.1 L595.9,92.1 L596.4,105.2 L596.9,92.3 L597.4,104.9 L597.9,92.3 L598.4,104.9 L598.9,90.7 L599.4,105.8 L599.9,92.3 L600.4,110.6 L600.9,92.9 L601.4,105.8 L601.9,87.7 L602.4,105.4 L602.9,89.3 L603.4,110.6 L603.9,92.3 L604.4,104.9 L604.9,88.1 L605.4,105.7 L605.9,92.8 L606.4,108.9 L606.9,92.7 L607.4,109.0 L607.9,89.2 L608.4,105.1 L608.9,92.2 L609.4,105.1 L609.9,92.9 L610.4,110.0 L610.9,90.6 L611.4,105.8 L611.9,92.8 L612.4,105.5 L612.9,92.3 L613.4,108.0 L613.9,88.3 L614.4,104.9 L614.9,92.8 L615.4,110.0 L615.9,89.0 L616.4,107.7 L616.9,92.4 L617.4,109.4 L617.9,92.8 L618.4,105.6 L618.9,92.5 L619.4,105.3 L619.9,92.6 L620.4,105.3 L620.9,92.3 L621.4,104.7 L621.9,92.3 L622.4,105.7 L622.9,90.2 L623.4,105.2 L623.9,92.8 L624.4,110.3 L624.9,90.3 L625.4,104.8 L625.9,89.5 L626.4,105.6 L626.9,88.5 L627.4,105.6 L627.9,92.5 L628.4,104.8 L628.9,92.4 L629.4,104.8 L629.9,92.5 L630.4,105.1 L630.9,92.8 L631.4,104.7 L631.9,92.7 L632.4,104.9 L632.9,93.2 L633.4,105.6 L633.9,92.7 L634.4,105.1 L634.9,89.4 L635.4,105.0 L635.9,88.2 L636.4,104.8 L636.9,86.8 L637.4,105.0 L637.9,92.4 L638.4,107.4 L638.9,92.7 L639.4,104.9 L639.9,87.4 L640.4,110.0 L640.9,92.4 L641.4,108.5 L641.9,93.3 L642.4,105.7 L642.9,92.7 L643.4,105.0 L643.9,92.7 L644.4,109.2 L644.9,93.1 L645.4,106.7 L645.9,92.9 L646.4,108.5 L646.9,92.5 L647.4,105.0 L647.9,89.8 L648.4,109.9 L648.9,93.2 L649.4,107.6 L649.9,92.6 L650.4,104.9 L650.9,92.9 L651.4,105.0 L651.9,92.7 L652.4,106.6 L652.9,92.9 L653.4,105.0 L653.9,92.5 L654.4,104.9 L654.9,93.0 L655.4,104.6 L655.9,93.0 L656.4,105.0 L656.9,92.8 L657.4,108.1 L657.9,88.8 L658.4,105.0 L658.9,92.7 L659.4,110.7 L659.9,93.3 L660.4,104.9 L660.9,92.7 L661.4,104.9 L661.9,92.7 L662.4,105.0 L662.9,92.5 L663.4,104.7 L663.9,92.6 L664.4,104.9 L664.9,92.9 L665.4,104.9 L665.9,92.6 L666.4,108.6 L666.9,93.1 L667.4,105.3 L667.9,90.1 L668.4,104.7 L668.9,93.1 L669.4,105.0 L669.9,92.7 L670.4,108.9 L670.9,92.6 L671.4,105.2 L671.9,92.8 L672.4,108.2 L672.9,92.9 L673.4,104.6 L673.9,93.4 L674.4,105.0 L674.9,92.9 L675.4,104.8 L675.9,88.5 L676.4,107.5 L676.9,87.2 L677.4,105.2 L677.9,91.2 L678.4,108.2 L678.9,93.0 L679.4,109.2 L679.9,93.2 L680.4,104.9 L680.9,87.8 L681.4,104.5 L681.9,90.1 L682.4,105.0 L682.9,92.5 L683.4,105.3 L683.9,91.0 L684.4,104.8 L684.9,92.5 L685.4,108.4 L685.9,92.7 L686.4,110.6 L686.9,93.2 L687.4,104.6 L687.9,93.0 L688.4,104.8 L688.9,89.7 L689.4,105.2 L689.9,93.2 L690.4,104.7 L690.9,92.8 L691.4,104.9 L691.9,92.8 L692.4,105.1 L692.9,93.5 L693.4,107.2 L693.9,92.7 L694.4,109.7 L694.9,93.4 L695.4,109.1 L695.9,87.7 L696.4,110.1 L696.9,92.9 L697.4,105.4 L697.9,93.3 L698.4,109.7 L698.9,92.9 L699.4,104.7 L699.9,92.9 L700.4,104.5 L700.9,92.8 L701.4,105.1 L701.9,93.1 L702.4,109.1 L702.9,90.4 L703.4,110.9 L703.9,93.2 L704.4,104.9 L704.9,93.1 L705.4,105.2 L705.9,93.4 L706.4,108.4 L706.9,90.2 L707.4,105.2 L707.9,89.5 L708.4,105.2 L708.9,90.1 L709.4,105.2 L709.9,93.5 L710.4,105.2 L710.9,88.7 L711.4,104.8 L711.9,93.0 L712.4,105.3 L712.9,87.4" fill="none" stroke="#ff0000" stroke-width="1.7" stroke-linejoin="miter" stroke-miterlimit="2"/>
<path d="M131.5,458.0 L614.0,26.5" stroke="#000" stroke-width="1.2" stroke-dasharray="3.7 6.8" fill="none"/>
<path d="M113.5,348.0 L114.0,367.0 L114.5,398.2 L115.0,397.2 L115.5,410.6 L116.0,407.9 L116.5,422.5 L117.0,415.0 L117.5,425.6 L118.0,417.4 L118.5,429.8 L119.0,420.7 L119.5,433.4 L120.0,422.6 L120.5,437.2 L121.0,425.9 L121.5,439.5 L122.0,426.0 L122.5,440.0 L123.0,426.2 L123.6,442.0 L124.2,426.5 L124.8,442.7 L125.4,426.7 L126.1,444.8 L126.8,427.5 L127.5,446.3 L128.3,426.7 L129.1,448.1 L129.9,427.0 L130.8,448.8 L131.7,426.7 L132.6,450.3 L133.6,427.3 L134.6,450.2 L135.6,424.5 L136.6,449.0 L137.6,423.2 L138.6,446.2 L139.6,418.6 L140.6,441.4 L141.6,411.9 L142.6,434.3 L143.6,405.8 L144.6,427.4 L145.6,398.9 L146.6,421.7 L147.6,395.3 L148.6,421.9 L149.6,394.9 L150.6,422.1 L151.6,395.4 L152.6,423.1 L153.6,397.5 L154.6,426.3 L155.6,400.3 L156.6,427.2 L157.6,404.1 L158.6,430.5 L159.6,405.1 L160.6,429.8 L161.6,403.3 L162.6,426.6 L163.6,398.8 L164.6,421.2 L165.6,391.9 L166.6,415.2 L167.6,385.2 L168.6,407.6 L169.6,379.9 L170.6,402.0 L171.6,373.0 L172.6,396.6 L173.6,369.0 L174.6,394.7 L175.6,366.6 L176.6,391.7 L177.6,364.2 L178.6,389.9 L179.6,363.4 L180.6,388.0 L181.6,361.9 L182.6,387.4 L183.6,361.7 L184.6,386.6 L185.6,359.9 L186.6,385.1 L187.6,360.3 L188.6,384.1 L189.6,359.4 L190.6,384.1 L191.6,357.0 L192.6,380.6 L193.6,354.5 L194.6,378.7 L195.6,351.7 L196.6,375.4 L197.6,349.0 L198.6,371.1 L199.6,346.1 L200.6,367.7 L201.6,342.3 L202.6,365.3 L203.5,339.3 L204.5,361.0 L205.5,337.7 L206.4,357.6 L207.3,335.0 L208.2,354.1 L209.1,332.3 L210.0,351.0 L210.9,328.8 L211.7,348.8 L212.6,326.3 L213.4,344.8 L214.2,324.4 L215.0,342.8 L215.8,321.7 L216.6,339.1 L217.3,320.1 L218.1,337.3 L218.8,317.9 L219.5,333.8 L220.3,314.4 L221.0,332.2 L221.7,312.0 L222.5,329.8 L223.2,310.2 L223.9,327.1 L224.6,307.7 L225.3,324.8 L226.0,306.1 L226.7,322.3 L227.4,303.3 L228.1,318.9 L228.8,301.4 L229.5,317.0 L230.2,300.0 L230.8,317.0 L231.5,299.0 L232.2,314.6 L232.9,297.3 L233.5,313.8 L234.2,295.7 L234.8,312.0 L235.5,295.4 L236.1,310.8 L236.8,293.2 L237.4,310.1 L238.1,292.6 L238.7,307.7 L239.3,291.2 L240.0,306.3 L240.6,290.3 L241.3,305.2 L241.9,289.2 L242.5,304.0 L243.1,287.5 L243.8,302.5 L244.4,286.2 L245.0,300.4 L245.6,284.3 L246.3,299.1 L246.9,282.4 L247.5,297.0 L248.1,279.9 L248.7,295.8 L249.3,279.0 L249.9,294.0 L250.6,277.3 L251.2,291.7 L251.8,275.6 L252.4,290.5 L253.0,273.9 L253.6,287.8 L254.2,272.2 L254.8,286.5 L255.4,270.1 L256.0,285.3 L256.5,268.4 L257.1,283.5 L257.7,266.5 L258.3,281.0 L258.9,265.7 L259.5,280.0 L260.1,264.3 L260.6,278.8 L261.2,262.6 L261.8,276.8 L262.4,261.0 L263.0,275.6 L263.5,259.8 L264.1,274.1 L264.7,258.3 L265.3,273.1 L265.8,256.8 L266.4,272.1 L267.0,255.5 L267.6,270.7 L268.1,255.2 L268.7,269.1 L269.3,254.2 L269.8,268.7 L270.4,252.9 L271.0,267.4 L271.6,251.6 L272.1,266.0 L272.7,250.8 L273.3,264.6 L273.8,248.9 L274.4,263.9 L275.0,248.1 L275.5,262.3 L276.1,246.6 L276.7,261.9 L277.2,245.8 L277.8,260.1 L278.4,245.0 L278.9,259.2 L279.5,244.2 L280.0,258.0 L280.6,243.4 L281.2,257.1 L281.7,241.7 L282.3,256.4 L282.8,241.1 L283.4,255.2 L284.0,239.3 L284.5,254.3 L285.1,238.7 L285.6,252.5 L286.2,238.0 L286.8,252.1 L287.3,236.0 L287.9,251.1 L288.4,235.3 L289.0,249.1 L289.5,234.4 L290.1,249.0 L290.6,233.6 L291.2,248.1 L291.7,232.6 L292.3,247.1 L292.8,231.6 L293.4,245.0 L293.9,229.9 L294.5,243.7 L295.0,228.2 L295.6,242.3 L296.1,227.6 L296.7,240.8 L297.2,225.9 L297.8,239.6 L298.3,224.9 L298.9,239.2 L299.4,222.7 L300.0,237.2 L300.5,221.4 L301.1,235.6 L301.6,221.0 L302.2,234.8 L302.7,219.3 L303.3,232.7 L303.8,217.6 L304.4,231.7 L304.9,216.9 L305.5,230.3 L306.0,214.8 L306.6,228.8 L307.1,214.1 L307.7,228.1 L308.2,212.2 L308.8,226.9 L309.3,210.8 L309.9,225.2 L310.4,210.1 L311.0,223.8 L311.5,208.6 L312.1,222.3 L312.6,207.0 L313.2,220.7 L313.7,206.1 L314.3,219.3 L314.8,204.1 L315.4,218.2 L315.9,202.8 L316.5,217.5 L317.0,202.0 L317.6,215.9 L318.1,199.8 L318.7,213.9 L319.2,199.0 L319.8,213.1 L320.3,197.0 L320.9,211.8 L321.4,196.4 L322.0,209.8 L322.5,194.3 L323.1,208.8 L323.6,193.4 L324.2,207.0 L324.7,192.5 L325.3,206.3 L325.8,190.6 L326.4,205.2 L326.9,189.4 L327.5,203.5 L328.0,187.7 L328.6,201.9 L329.1,186.4 L329.7,200.5 L330.2,185.5 L330.8,198.3 L331.3,182.8 L331.9,197.3 L332.4,180.6 L333.0,195.1 L333.5,179.2 L334.1,192.9 L334.6,177.2 L335.2,191.1 L335.7,175.4 L336.3,188.7 L336.8,172.8 L337.4,187.3 L337.9,171.5 L338.5,185.1 L339.0,168.9 L339.6,182.4 L340.1,167.1 L340.7,181.2 L341.2,165.1 L341.8,178.2 L342.3,163.1 L342.9,176.6 L343.4,160.9 L344.0,175.0 L344.5,160.0 L345.1,174.1 L345.6,158.7 L346.2,172.9 L346.7,157.0 L347.3,170.7 L347.8,156.0 L348.4,169.4 L348.9,153.7 L349.5,168.3 L350.0,153.1 L350.5,166.1 L351.1,151.8 L351.6,164.7 L352.2,150.3 L352.7,164.2 L353.3,148.4 L353.8,161.9 L354.3,146.4 L354.9,160.5 L355.4,145.9 L356.0,158.9 L356.5,143.7 L357.0,158.0 L357.6,143.1 L358.1,156.9 L358.6,141.2 L359.2,155.0 L359.7,140.1 L360.3,154.4 L360.8,139.1 L361.3,152.3 L361.9,137.3 L362.4,151.7 L362.9,136.4 L363.5,150.4 L364.0,135.2 L364.5,148.7 L365.1,134.1 L365.6,147.5 L366.1,132.9 L366.6,145.9 L367.2,131.7 L367.7,145.1 L368.2,129.7 L368.8,144.1 L369.3,128.9 L369.8,142.4 L370.3,127.7 L370.9,141.7 L371.4,126.3 L371.9,140.7 L372.4,124.8 L373.0,138.9 L373.5,123.7 L374.0,137.8 L374.5,122.3 L375.1,136.5 L375.6,121.4 L376.1,135.0 L376.6,120.5 L377.1,133.4 L377.7,118.8 L378.2,132.8 L378.7,117.5 L379.2,130.7 L379.7,116.0 L380.3,130.3 L380.8,115.0 L381.3,128.3 L381.8,113.7 L382.3,127.0 L382.8,113.3 L383.3,126.6 L383.9,111.2 L384.4,125.4 L384.9,110.1 L385.4,123.2 L385.9,109.0 L386.4,122.5 L386.9,108.5 L387.5,120.8 L388.0,106.7 L388.5,119.7 L389.0,105.0 L389.5,118.9 L390.0,104.7 L390.5,117.4 L391.0,103.1 L391.5,115.9 L392.0,102.2 L392.5,115.0 L393.0,101.0 L393.6,114.1 L394.1,99.4 L394.6,112.4 L395.1,98.8 L395.6,111.3 L396.1,97.3 L396.6,109.8 L397.1,96.2 L397.6,108.7 L398.1,95.1 L398.6,108.0 L399.1,93.5 L399.6,106.3 L400.1,92.7 L400.6,105.3 L401.1,91.8 L401.6,104.2 L402.1,89.9 L402.6,103.4 L403.1,88.9 L403.6,102.7 L404.1,87.6 L404.6,100.9 L405.1,86.3 L405.6,100.5 L406.1,85.5 L406.6,98.6 L407.1,84.3 L407.7,98.3 L408.2,83.8 L408.7,96.7 L409.2,82.8 L409.7,96.1 L410.2,80.6 L410.7,94.7 L411.2,80.4 L411.7,93.3 L412.3,79.2 L412.8,91.8 L413.3,77.4 L413.8,90.8 L414.3,76.4 L414.8,90.5 L415.4,75.5 L415.9,88.8 L416.4,75.1 L416.9,88.3 L417.4,73.5 L417.9,87.2 L418.5,72.8 L419.0,86.7 L419.5,71.5 L420.0,85.0 L420.6,70.3 L421.1,83.8 L421.6,69.4 L422.1,83.0 L422.7,68.9 L423.2,82.0 L423.7,67.5 L424.2,81.1 L424.8,66.3 L425.3,80.8 L425.8,65.4 L426.4,79.8 L426.9,64.4 L427.4,77.8 L428.0,64.0 L428.5,77.7 L429.0,63.2 L429.5,77.0 L430.1,63.0 L430.6,77.2 L431.2,62.4 L431.7,76.4 L432.2,62.3 L432.8,76.3 L433.3,61.6 L433.8,75.8 L434.4,61.1 L434.9,76.0 L435.5,61.3 L436.0,75.1 L436.5,61.0 L437.1,75.3 L437.6,60.0 L438.2,75.4 L438.7,60.3 L439.3,74.6 L439.8,60.0 L440.4,75.0 L440.9,60.1 L441.5,74.0 L442.0,59.3 L442.5,73.6 L443.1,59.4 L443.6,73.5 L444.2,59.4 L444.7,74.5 L445.3,59.6 L445.8,73.6 L446.4,59.3 L446.9,74.7 L447.5,59.3 L448.0,74.5 L448.5,60.2 L449.1,74.3 L449.6,60.1 L450.1,74.1 L450.7,60.7 L451.2,74.1 L451.7,60.6 L452.2,74.8 L452.8,60.2 L453.3,75.1 L453.8,61.0 L454.3,74.7 L454.9,60.9 L455.4,74.9 L455.9,61.1 L456.4,74.8 L456.9,61.4 L457.4,75.6 L457.9,61.6 L458.5,75.7 L459.0,61.7 L459.5,75.0 L460.0,62.1 L460.5,75.5 L461.0,62.0 L461.5,76.5 L462.0,62.0 L462.5,76.8 L463.0,62.8 L463.5,76.5 L464.0,63.4 L464.5,76.9 L465.0,63.3 L465.5,77.2 L466.0,63.2 L466.5,76.9 L467.0,63.9 L467.5,77.7 L468.0,64.4 L468.5,77.4 L469.0,64.6 L469.5,77.9 L470.0,64.7 L470.5,78.4 L471.0,65.0 L471.5,78.3 L472.0,65.6 L472.5,79.4 L473.0,66.0 L473.5,79.1 L474.0,66.2 L474.5,79.3 L475.0,66.7 L475.5,80.5 L476.0,67.0 L476.5,80.9 L477.0,68.0 L477.5,81.2 L478.0,68.8 L478.5,81.3 L479.0,68.2 L479.5,81.2 L480.0,69.2 L480.5,81.8 L481.0,70.2 L481.5,82.4 L482.0,70.6 L482.5,83.2 L483.0,71.5 L483.5,83.9 L484.0,71.7 L484.5,84.7 L485.0,73.0 L485.5,85.1 L486.0,72.8 L486.5,85.6 L487.0,74.1 L487.5,86.9 L488.0,74.9 L488.5,87.4 L489.0,75.6 L489.5,88.1 L490.0,75.8 L490.5,88.6 L491.0,76.3 L491.5,88.4 L492.0,77.1 L492.5,89.3 L493.0,77.5 L493.5,89.5 L494.0,78.1 L494.5,90.2 L495.0,78.8 L495.5,90.5 L496.0,79.0 L496.5,90.7 L497.0,79.7 L497.5,91.0 L498.0,80.1 L498.5,91.8 L499.0,80.4 L499.5,92.3 L500.0,81.4 L500.5,92.5 L501.0,81.4 L501.5,93.0 L502.0,81.8 L502.5,93.1 L503.0,82.0 L503.5,93.1 L504.0,82.0 L504.5,93.6 L505.0,82.1 L505.5,92.9 L506.0,82.2 L506.5,93.6 L507.0,82.5 L507.5,93.4 L508.0,83.0 L508.5,93.7 L509.0,82.9 L509.5,94.2 L510.0,83.5 L510.5,94.0 L511.0,83.8 L511.5,93.9 L512.0,83.7 L512.5,93.8 L513.0,83.8 L513.5,93.9 L514.0,84.1 L514.5,94.5 L515.0,84.2 L515.5,93.7 L516.0,84.3 L516.5,93.8 L517.0,83.6 L517.5,94.3 L518.0,83.6 L518.5,94.0 L519.0,84.2 L519.5,93.6 L520.0,84.1 L520.5,93.7 L521.0,84.2 L521.5,93.7 L522.0,84.4 L522.5,94.0 L523.0,84.0 L523.5,94.3 L524.0,84.2 L524.5,93.8 L525.0,84.1 L525.5,93.6 L526.0,84.3 L526.5,93.6 L527.0,84.2 L527.5,93.7 L528.0,84.3 L528.5,93.6 L529.0,83.9 L529.5,93.5 L530.0,84.3 L530.5,94.1 L531.0,83.8 L531.5,93.8 L532.0,83.9 L532.5,93.8 L533.0,84.2 L533.5,93.5 L534.0,84.3 L534.5,93.6 L535.0,84.3 L535.5,94.1 L536.0,84.0 L536.5,93.8 L537.0,84.4 L537.5,93.9 L538.0,83.8 L538.5,93.9 L539.0,84.0 L539.5,93.7 L540.0,84.1 L540.5,94.1 L541.0,84.3 L541.5,93.9 L542.0,83.9 L542.5,93.9 L543.0,84.3 L543.5,93.9 L544.0,83.8 L544.5,93.6 L545.0,84.4 L545.5,94.1 L546.0,84.4 L546.5,94.2 L547.0,84.3 L547.5,93.6 L548.0,84.0 L548.5,93.9 L549.0,84.5 L549.5,93.8 L550.0,83.8 L550.5,94.0 L551.0,83.8 L551.5,93.6 L552.0,84.3 L552.5,94.1 L553.0,83.9 L553.5,93.5 L554.0,84.5 L554.5,94.0 L555.0,84.5 L555.5,94.2 L556.0,84.5 L556.5,93.8 L557.0,84.3 L557.5,94.1 L558.0,84.3 L558.5,94.1 L559.0,83.8 L559.5,93.7 L560.0,84.5 L560.5,93.8 L561.0,84.2 L561.5,93.6 L562.0,84.4 L562.5,94.2 L563.0,84.5 L563.5,93.6 L564.0,84.2 L564.5,94.0 L565.0,83.8 L565.5,93.5 L566.0,84.4 L566.5,93.9 L567.0,84.1 L567.5,94.1 L568.0,84.4 L568.5,93.5 L569.0,83.8 L569.5,93.5 L570.0,84.2 L570.5,94.2 L571.0,84.2 L571.5,94.1 L572.0,84.1 L572.5,93.9 L573.0,84.4 L573.5,94.1 L574.0,84.5 L574.5,93.7 L575.0,84.1 L575.5,94.0 L576.0,84.3 L576.5,94.2 L577.0,84.4 L577.5,94.1 L578.0,84.3 L578.5,94.0 L579.0,84.5 L579.5,93.5 L580.0,83.8 L580.5,93.5 L581.0,84.3 L581.5,93.5 L582.0,84.2 L582.5,94.1 L583.0,84.4 L583.5,94.1 L584.0,84.3 L584.5,93.9 L585.0,84.3 L585.5,93.9 L586.0,84.2 L586.5,94.1 L587.0,84.4 L587.5,93.6 L588.0,84.2 L588.5,94.1 L589.0,84.3 L589.5,94.0 L590.0,84.2 L590.5,93.5 L591.0,84.4 L591.5,94.2 L592.0,83.9 L592.5,93.8 L593.0,83.9 L593.5,94.2 L594.0,83.8 L594.5,94.1 L595.0,84.1 L595.5,93.5 L596.0,83.8 L596.5,93.4 L597.0,83.8 L597.5,93.9 L598.0,84.1 L598.5,93.5 L599.0,84.5 L599.5,94.2 L600.0,84.4 L600.5,93.5 L601.0,84.0 L601.5,93.8 L602.0,84.4 L602.5,93.9 L603.0,84.3 L603.5,94.2 L604.0,84.5 L604.5,93.5 L605.0,84.3 L605.5,94.1 L606.0,84.5 L606.5,94.2 L607.0,84.5 L607.5,94.1 L608.0,83.8 L608.5,94.0 L609.0,84.4 L609.5,93.6 L610.0,84.3 L610.5,93.5 L611.0,84.5 L611.5,93.6 L612.0,83.8 L612.5,93.9 L613.0,83.9 L613.5,93.8 L614.0,84.0 L614.5,93.8 L615.0,84.0 L615.5,93.7 L616.0,84.6 L616.5,93.8 L617.0,84.3 L617.5,93.5 L618.0,84.1 L618.5,93.4 L619.0,84.3 L619.5,94.0 L620.0,83.9 L620.5,93.9 L621.0,84.4 L621.5,93.5 L622.0,83.9 L622.5,93.5 L623.0,84.4 L623.5,93.6 L624.0,84.4 L624.5,93.9 L625.0,84.3 L625.5,93.4 L626.0,84.1 L626.5,93.5 L627.0,83.9 L627.5,93.8 L628.0,84.2 L628.5,93.6 L629.0,84.1 L629.5,93.6 L630.0,84.3 L630.5,93.6 L631.0,84.0 L631.5,93.9 L632.0,83.9 L632.5,93.6 L633.0,84.2 L633.5,93.5 L634.0,84.1 L634.5,93.5 L635.0,84.4 L635.5,93.5 L636.0,84.0 L636.5,93.9 L637.0,84.4 L637.5,93.5 L638.0,83.9 L638.5,93.7 L639.0,84.6 L639.5,94.0 L640.0,84.5 L640.5,93.6 L641.0,84.4 L641.5,94.2 L642.0,84.4 L642.5,93.4 L643.0,84.5 L643.5,93.5 L644.0,84.2 L644.5,94.0 L645.0,84.1 L645.5,93.9 L646.0,84.6 L646.5,93.7 L647.0,84.6 L647.5,93.4 L648.0,84.4 L648.5,93.5 L649.0,84.5 L649.5,93.7 L650.0,84.1 L650.5,93.6 L651.0,84.4 L651.5,93.9 L652.0,84.2 L652.5,93.6 L653.0,84.5 L653.5,93.5 L654.0,84.1 L654.5,94.1 L655.0,84.3 L655.5,94.1 L656.0,84.4 L656.5,94.1 L657.0,84.3 L657.5,93.9 L658.0,84.3 L658.5,94.0 L659.0,84.6 L659.5,93.6 L660.0,84.3 L660.5,94.1 L661.0,84.3 L661.5,94.0 L662.0,84.5 L662.5,93.4 L663.0,84.0 L663.5,93.5 L664.0,83.9 L664.5,93.5 L665.0,84.0 L665.5,93.5 L666.0,83.9 L666.5,94.1 L667.0,83.9 L667.5,93.4 L668.0,83.9 L668.5,93.7 L669.0,84.2 L669.5,93.8 L670.0,84.1 L670.5,93.6 L671.0,84.4 L671.5,93.4 L672.0,84.6 L672.5,93.9 L673.0,83.9 L673.5,94.0 L674.0,84.2 L674.5,93.6 L675.0,84.0 L675.5,93.7 L676.0,84.4 L676.5,93.7 L677.0,84.6 L677.5,93.6 L678.0,84.5 L678.5,93.4 L679.0,84.2 L679.5,93.9 L680.0,84.6 L680.5,93.8 L681.0,84.1 L681.5,93.7 L682.0,84.2 L682.5,93.6 L683.0,84.5 L683.5,93.9 L684.0,84.0 L684.5,93.7 L685.0,84.3 L685.5,93.7 L686.0,83.9 L686.5,93.7 L687.0,83.9 L687.5,93.9 L688.0,84.1 L688.5,93.6 L689.0,84.0 L689.5,93.5 L690.0,84.1 L690.5,94.0 L691.0,84.5 L691.5,93.6 L692.0,84.1 L692.5,93.4 L693.0,84.1 L693.5,93.5 L694.0,84.0 L694.5,93.4 L695.0,84.5 L695.5,93.8 L696.0,84.5 L696.5,93.8 L697.0,84.0 L697.5,93.4 L698.0,84.3 L698.5,93.6 L699.0,83.9 L699.5,93.9 L700.0,84.6 L700.5,94.0 L701.0,84.3 L701.5,93.7 L702.0,84.5 L702.5,93.8 L703.0,84.3 L703.5,93.7 L704.0,84.5 L704.5,93.9 L705.0,84.1 L705.5,93.5 L706.0,84.6 L706.5,94.0 L707.0,84.7 L707.5,93.8 L708.0,84.6 L708.5,93.6 L709.0,84.5 L709.5,93.5 L710.0,83.9 L710.5,94.0 L711.0,84.0 L711.5,94.0 L712.0,84.0 L712.5,93.7 L713.0,84.3" fill="none" stroke="#00ff00" stroke-width="1.6" stroke-linejoin="miter" stroke-miterlimit="2" stroke-dasharray="3 1.3"/><path d="M116.8,424.6 L117.5,429.3 L118.2,424.6ZM128.4,447.1 L129.1,452.6 L129.8,447.1ZM135.9,448.0 L136.6,450.5 L137.3,448.0ZM146.9,396.3 L147.6,392.8 L148.3,396.3ZM162.9,399.8 L163.6,394.8 L164.3,399.8ZM166.9,386.2 L167.6,382.5 L168.3,386.2ZM192.9,355.5 L193.6,352.3 L194.3,355.5ZM201.9,364.3 L202.6,369.5 L203.3,364.3ZM223.2,326.1 L223.9,330.4 L224.6,326.1ZM223.9,308.7 L224.6,305.6 L225.3,308.7ZM226.0,321.3 L226.7,326.7 L227.4,321.3ZM241.8,303.0 L242.5,308.7 L243.2,303.0ZM243.1,301.5 L243.8,304.1 L244.5,301.5ZM256.4,282.5 L257.1,285.2 L257.8,282.5ZM268.0,268.1 L268.7,270.7 L269.4,268.1ZM293.8,242.7 L294.5,247.6 L295.2,242.7ZM298.2,238.2 L298.9,243.5 L299.6,238.2ZM303.7,230.7 L304.4,235.6 L305.1,230.7ZM322.4,207.8 L323.1,212.4 L323.8,207.8ZM338.3,169.9 L339.0,164.2 L339.7,169.9ZM341.6,164.1 L342.3,158.3 L343.0,164.1ZM346.6,169.7 L347.3,172.4 L348.0,169.7ZM350.4,152.8 L351.1,148.6 L351.8,152.8ZM355.8,144.7 L356.5,140.0 L357.2,144.7ZM378.5,129.7 L379.2,134.8 L379.9,129.7ZM399.4,93.7 L400.1,88.9 L400.8,93.7ZM409.5,81.6 L410.2,76.1 L410.9,81.6ZM416.2,87.3 L416.9,93.0 L417.6,87.3ZM417.2,86.2 L417.9,92.0 L418.6,86.2ZM432.1,75.3 L432.8,77.9 L433.5,75.3ZM436.9,61.0 L437.6,56.5 L438.3,61.0ZM437.5,74.4 L438.2,79.6 L438.9,74.4ZM441.8,72.6 L442.5,75.4 L443.2,72.6ZM458.3,62.7 L459.0,57.5 L459.7,62.7ZM461.8,75.8 L462.5,81.2 L463.2,75.8ZM472.8,78.1 L473.5,83.1 L474.2,78.1ZM491.8,88.3 L492.5,91.2 L493.2,88.3ZM492.8,88.5 L493.5,92.6 L494.2,88.5ZM498.8,91.3 L499.5,96.1 L500.2,91.3ZM500.8,92.0 L501.5,94.7 L502.2,92.0ZM501.8,92.1 L502.5,97.0 L503.2,92.1ZM504.3,83.1 L505.0,80.3 L505.7,83.1ZM515.8,92.8 L516.5,96.5 L517.2,92.8ZM520.3,85.2 L521.0,79.5 L521.7,85.2ZM537.8,92.9 L538.5,96.0 L539.2,92.9ZM543.3,84.8 L544.0,79.9 L544.7,84.8ZM547.3,85.0 L548.0,79.4 L548.7,85.0ZM552.3,84.9 L553.0,81.6 L553.7,84.9ZM553.3,85.5 L554.0,82.1 L554.7,85.5ZM564.8,92.5 L565.5,98.5 L566.2,92.5ZM565.8,92.9 L566.5,95.9 L567.2,92.9ZM567.8,92.5 L568.5,95.4 L569.2,92.5ZM572.3,85.4 L573.0,81.7 L573.7,85.4ZM574.8,93.0 L575.5,96.6 L576.2,93.0ZM580.3,85.3 L581.0,79.3 L581.7,85.3ZM587.8,93.1 L588.5,99.1 L589.2,93.1ZM599.3,85.4 L600.0,81.0 L600.7,85.4ZM600.8,92.8 L601.5,95.6 L602.2,92.8ZM603.8,92.5 L604.5,95.3 L605.2,92.5ZM620.8,92.5 L621.5,98.3 L622.2,92.5ZM621.3,84.9 L622.0,81.4 L622.7,84.9ZM622.8,92.6 L623.5,95.5 L624.2,92.6ZM623.3,85.4 L624.0,80.6 L624.7,85.4ZM626.3,84.9 L627.0,82.2 L627.7,84.9ZM629.3,85.3 L630.0,79.4 L630.7,85.3ZM632.3,85.2 L633.0,79.6 L633.7,85.2ZM644.3,85.1 L645.0,81.7 L645.7,85.1ZM644.8,92.9 L645.5,96.0 L646.2,92.9ZM649.8,92.6 L650.5,98.0 L651.2,92.6ZM650.3,85.4 L651.0,81.1 L651.7,85.4ZM665.8,93.1 L666.5,96.5 L667.2,93.1ZM667.8,92.7 L668.5,97.4 L669.2,92.7ZM670.3,85.4 L671.0,79.5 L671.7,85.4ZM673.3,85.2 L674.0,79.8 L674.7,85.2ZM675.3,85.4 L676.0,80.5 L676.7,85.4ZM682.3,85.5 L683.0,82.6 L683.7,85.5ZM683.3,85.0 L684.0,80.1 L684.7,85.0ZM688.8,92.5 L689.5,98.3 L690.2,92.5ZM690.3,85.5 L691.0,82.1 L691.7,85.5ZM691.3,85.1 L692.0,81.9 L692.7,85.1ZM691.8,92.4 L692.5,98.3 L693.2,92.4ZM699.8,93.0 L700.5,96.6 L701.2,93.0ZM709.3,84.9 L710.0,81.9 L710.7,84.9ZM710.8,93.0 L711.5,97.6 L712.2,93.0Z" fill="#00ff00" stroke="#00ff00" stroke-width="0.5"/>
<path d="M119.1,458.0 L452.7,26.5" stroke="#000" stroke-width="1.2" stroke-dasharray="3.7 6.8" fill="none"/>
<path d="M113.5,354.0 L113.8,353.5 L114.2,371.8 L114.7,370.9 L115.2,394.8 L115.8,386.9 L116.5,415.1 L117.4,403.7 L118.2,432.1 L119.2,415.5 L120.1,442.0 L121.1,416.5 L122.1,441.8 L123.1,414.5 L124.1,442.8 L125.1,411.9 L126.1,439.9 L127.1,406.7 L128.1,437.9 L129.1,402.1 L130.1,434.7 L131.1,397.8 L132.1,431.5 L133.1,392.6 L134.1,429.8 L135.1,392.6 L136.1,429.5 L137.1,391.4 L138.1,429.6 L139.1,390.9 L140.1,429.3 L141.1,389.7 L142.1,427.3 L143.1,389.6 L144.1,429.5 L145.1,389.3 L146.1,428.8 L147.1,390.1 L148.1,426.2 L149.1,386.7 L150.1,426.7 L151.1,388.7 L152.1,425.5 L153.1,387.5 L154.1,419.5 L155.1,380.7 L156.1,412.5 L157.1,376.7 L158.1,399.7 L159.1,363.2 L160.1,384.7 L161.1,351.5 L162.1,376.4 L163.1,345.8 L164.1,372.2 L165.1,340.1 L166.1,364.9 L167.1,336.4 L168.1,360.0 L169.1,330.5 L170.1,354.5 L171.1,325.3 L172.1,348.6 L173.1,321.9 L174.1,344.1 L175.1,317.8 L176.1,338.8 L177.1,312.3 L178.1,333.7 L179.1,309.0 L180.1,330.6 L181.1,304.2 L182.1,326.2 L183.1,300.1 L184.1,320.4 L185.1,295.4 L186.1,316.4 L187.1,290.9 L188.1,310.4 L189.1,284.8 L190.0,306.0 L191.0,281.2 L192.0,299.9 L192.9,275.5 L193.9,296.4 L194.8,272.1 L195.8,292.4 L196.7,267.6 L197.6,287.0 L198.6,262.8 L199.5,283.1 L200.4,258.9 L201.3,279.6 L202.2,256.1 L203.1,274.2 L204.0,252.3 L204.9,271.4 L205.8,248.3 L206.6,267.7 L207.5,244.8 L208.4,262.4 L209.3,240.0 L210.1,259.2 L211.0,236.6 L211.8,256.4 L212.7,233.0 L213.5,252.8 L214.3,230.8 L215.2,248.0 L216.0,227.5 L216.8,246.1 L217.6,224.6 L218.5,241.6 L219.3,220.4 L220.1,238.4 L220.9,218.4 L221.7,236.6 L222.4,215.5 L223.2,233.2 L224.0,212.8 L224.8,231.3 L225.6,210.9 L226.3,227.8 L227.1,208.8 L227.8,225.9 L228.6,206.1 L229.3,223.1 L230.1,203.2 L230.8,221.0 L231.5,201.0 L232.3,218.1 L233.0,197.9 L233.7,215.0 L234.4,195.7 L235.1,212.5 L235.8,194.3 L236.5,210.3 L237.2,192.0 L237.9,208.4 L238.6,189.6 L239.3,205.7 L240.0,188.3 L240.7,203.8 L241.3,185.7 L242.0,201.4 L242.6,184.8 L243.3,200.1 L243.9,181.9 L244.6,198.3 L245.2,180.2 L245.9,195.5 L246.5,179.0 L247.1,193.9 L247.7,177.4 L248.3,192.0 L249.0,174.7 L249.6,189.4 L250.2,173.8 L250.8,187.6 L251.4,171.2 L252.0,186.2 L252.6,169.3 L253.1,184.6 L253.7,168.3 L254.3,182.8 L254.9,165.8 L255.5,180.0 L256.1,164.5 L256.6,179.0 L257.2,162.6 L257.8,177.1 L258.4,160.6 L258.9,174.7 L259.5,158.9 L260.1,173.1 L260.6,157.4 L261.2,171.0 L261.8,155.6 L262.3,169.3 L262.9,153.5 L263.4,167.0 L264.0,151.4 L264.5,165.1 L265.1,150.6 L265.6,164.4 L266.2,148.4 L266.7,162.2 L267.3,147.7 L267.8,161.5 L268.4,146.3 L268.9,160.2 L269.4,144.4 L270.0,158.6 L270.5,143.9 L271.0,156.5 L271.6,141.7 L272.1,156.1 L272.6,141.2 L273.1,154.3 L273.6,138.9 L274.2,152.8 L274.7,137.5 L275.2,151.4 L275.7,136.5 L276.2,150.1 L276.7,135.0 L277.2,148.2 L277.7,134.2 L278.2,146.8 L278.7,133.2 L279.2,146.3 L279.7,131.6 L280.2,144.4 L280.7,130.1 L281.2,143.0 L281.7,128.9 L282.2,140.7 L282.7,126.8 L283.2,140.1 L283.7,125.3 L284.2,138.3 L284.7,124.3 L285.2,136.2 L285.7,122.0 L286.2,134.4 L286.7,120.7 L287.2,133.7 L287.7,118.9 L288.2,131.6 L288.7,118.1 L289.2,130.3 L289.7,115.9 L290.2,128.3 L290.7,115.1 L291.2,127.3 L291.7,113.6 L292.2,125.6 L292.7,111.3 L293.2,124.3 L293.7,110.2 L294.2,122.5 L294.7,108.3 L295.2,120.4 L295.7,106.6 L296.2,118.4 L296.7,105.4 L297.2,117.0 L297.7,103.9 L298.2,115.4 L298.7,101.6 L299.2,114.0 L299.7,100.4 L300.2,111.9 L300.7,98.2 L301.2,110.4 L301.7,97.4 L302.2,108.6 L302.7,95.9 L303.2,107.7 L303.7,94.4 L304.2,106.3 L304.7,92.8 L305.2,104.4 L305.7,91.1 L306.2,103.0 L306.7,89.7 L307.2,101.7 L307.7,88.9 L308.2,99.9 L308.7,87.2 L309.2,98.3 L309.7,85.5 L310.2,96.7 L310.7,84.4 L311.2,95.5 L311.7,83.0 L312.2,94.0 L312.7,81.2 L313.2,92.0 L313.7,80.4 L314.2,90.6 L314.7,78.6 L315.2,89.9 L315.7,78.6 L316.2,88.6 L316.7,77.7 L317.2,87.8 L317.7,77.1 L318.1,87.5 L318.4,76.2 L318.8,86.6 L319.1,75.4 L319.4,86.1 L319.8,75.4 L320.1,85.6 L320.5,75.0 L320.8,85.1 L321.1,74.5 L321.5,84.2 L321.8,73.4 L322.2,84.0 L322.5,72.9 L322.8,83.1 L323.2,73.0 L323.5,83.2 L323.9,71.9 L324.2,82.5 L324.5,71.9 L324.9,81.3 L325.2,71.5 L325.6,80.8 L325.9,70.3 L326.2,80.3 L326.6,69.9 L326.9,80.0 L327.3,69.6 L327.6,79.0 L327.9,69.2 L328.3,79.0 L328.6,68.4 L329.0,78.2 L329.3,68.2 L329.6,77.9 L330.0,68.2 L330.3,78.1 L330.7,68.0 L331.0,77.8 L331.3,68.0 L331.7,77.4 L332.0,67.6 L332.4,77.7 L332.7,67.3 L333.0,77.3 L333.4,67.1 L333.7,77.1 L334.1,67.3 L334.4,76.5 L334.7,67.1 L335.1,76.3 L335.4,67.0 L335.8,76.2 L336.1,66.6 L336.4,76.3 L336.8,65.9 L337.1,75.8 L337.5,65.9 L337.8,76.0 L338.1,66.2 L338.5,75.8 L338.8,65.4 L339.2,74.9 L339.5,65.2 L339.8,75.2 L340.2,65.5 L340.5,74.6 L340.9,64.9 L341.2,74.6 L341.5,64.9 L341.9,74.6 L342.2,64.7 L342.6,73.8 L342.9,64.5 L343.2,73.9 L343.6,64.7 L343.9,73.7 L344.3,64.3 L344.6,73.4 L344.9,64.5 L345.3,73.8 L345.6,63.7 L346.0,73.6 L346.3,64.0 L346.6,73.6 L347.0,63.5 L347.3,73.6 L347.7,63.6 L348.0,73.2 L348.3,64.0 L348.7,72.9 L349.0,63.2 L349.4,73.0 L349.7,63.3 L350.0,72.6 L350.4,63.7 L350.7,72.9 L351.1,63.5 L351.4,72.6 L351.7,62.9 L352.1,72.6 L352.4,62.6 L352.8,72.1 L353.1,62.5 L353.4,72.5 L353.8,62.8 L354.1,71.9 L354.5,62.7 L354.8,72.1 L355.1,62.3 L355.5,71.8 L355.8,62.6 L356.2,71.5 L356.5,62.2 L356.8,71.9 L357.2,62.1 L357.5,71.5 L357.9,61.8 L358.2,71.5 L358.5,61.9 L358.9,71.0 L359.2,62.1 L359.6,71.4 L359.9,61.6 L360.2,70.9 L360.6,61.6 L360.9,71.0 L361.3,62.2 L361.6,71.7 L361.9,62.5 L362.3,71.2 L362.6,62.5 L363.0,71.4 L363.3,62.6 L363.6,71.8 L364.0,62.8 L364.3,71.8 L364.7,62.6 L365.0,72.4 L365.3,62.7 L365.7,72.1 L366.0,63.0 L366.4,72.3 L366.7,63.2 L367.0,72.6 L367.4,63.3 L367.7,72.5 L368.1,63.4 L368.4,72.6 L368.7,63.6 L369.1,72.6 L369.4,63.5 L369.8,73.0 L370.1,63.8 L370.4,73.1 L370.8,64.3 L371.1,73.3 L371.5,64.4 L371.8,73.1 L372.1,64.1 L372.5,73.5 L372.8,64.9 L373.2,73.6 L373.5,64.7 L373.8,73.7 L374.2,64.9 L374.5,73.9 L374.9,64.8 L375.2,74.2 L375.5,65.1 L375.9,74.2 L376.2,65.5 L376.6,74.0 L376.9,65.2 L377.2,74.3 L377.6,65.7 L377.9,74.8 L378.3,65.7 L378.6,75.2 L378.9,65.8 L379.3,75.5 L379.6,66.6 L380.0,75.3 L380.3,66.5 L380.6,75.3 L381.0,66.9 L381.3,75.7 L381.7,66.8 L382.0,76.3 L382.3,67.2 L382.7,76.1 L383.0,67.5 L383.4,76.3 L383.7,67.6 L384.0,76.4 L384.4,68.0 L384.7,76.7 L385.1,68.0 L385.4,77.1 L385.7,67.8 L386.1,77.2 L386.4,68.1 L386.8,77.1 L387.1,68.4 L387.4,77.2 L387.8,68.8 L388.1,77.4 L388.5,68.9 L388.8,77.8 L389.1,69.0 L389.5,78.2 L389.8,69.2 L390.2,77.9 L390.5,69.8 L390.8,78.3 L391.2,69.9 L391.5,78.3 L391.9,69.9 L392.2,78.8 L392.5,70.3 L392.9,78.7 L393.2,70.5 L393.6,79.1 L393.9,70.4 L394.2,79.1 L394.6,70.7 L394.9,79.7 L395.3,70.9 L395.6,79.6 L395.9,70.6 L396.3,79.7 L396.6,71.2 L397.0,79.7 L397.3,71.3 L397.6,79.7 L398.0,71.4 L398.3,79.9 L398.7,71.0 L399.0,80.0 L399.3,71.3 L399.7,80.0 L400.0,71.7 L400.4,80.5 L400.7,71.3 L401.0,80.6 L401.4,71.5 L401.7,80.3 L402.1,71.7 L402.4,80.3 L402.7,72.1 L403.1,80.6 L403.4,71.8 L403.8,80.9 L404.1,72.3 L404.4,80.8 L404.8,72.3 L405.1,81.1 L405.5,72.0 L405.8,81.0 L406.1,72.2 L406.5,81.0 L406.8,72.8 L407.2,81.1 L407.5,72.4 L407.8,81.2 L408.2,72.6 L408.5,81.7 L408.9,73.0 L409.2,81.7 L409.5,73.2 L409.9,81.4 L410.2,72.8 L410.6,81.5 L410.9,73.3 L411.2,81.8 L411.6,73.0 L411.9,81.7 L412.3,73.4 L412.6,81.8 L412.9,73.4 L413.3,81.8 L413.6,73.8 L414.0,81.9 L414.3,73.3 L414.6,81.9 L415.0,73.4 L415.3,82.6 L415.7,73.5 L416.0,82.7 L416.3,73.8 L416.7,82.3 L417.0,73.6 L417.4,82.7 L417.7,74.2 L418.0,82.7 L418.4,73.8 L418.7,82.3 L419.1,74.0 L419.4,82.6 L419.7,73.9 L420.1,83.0 L420.4,74.4 L420.8,83.0 L421.1,74.3 L421.4,82.9 L421.8,74.1 L422.1,83.0 L422.5,74.5 L422.8,82.8 L423.1,74.8 L423.5,83.1 L423.8,74.5 L424.2,83.4 L424.5,75.0 L424.8,83.4 L425.2,74.4 L425.5,83.3 L425.9,74.9 L426.2,83.2 L426.5,74.7 L426.9,83.6 L427.2,74.9 L427.6,83.2 L427.9,75.3 L428.2,83.7 L428.6,75.1 L428.9,83.8 L429.3,74.9 L429.6,83.8 L429.9,75.4 L430.3,83.6 L430.6,75.0 L431.0,83.9 L431.3,75.5 L431.6,83.7 L432.0,75.2 L432.3,83.7 L432.7,75.2 L433.0,83.8 L433.3,75.5 L433.7,84.0 L434.0,75.7 L434.4,83.9 L434.7,75.3 L435.0,84.0 L435.4,75.5 L435.7,84.5 L436.1,76.1 L436.4,84.4 L436.7,76.2 L437.1,84.7 L437.4,75.8 L437.8,84.3 L438.1,75.8 L438.4,84.9 L438.8,76.2 L439.1,84.5 L439.5,76.3 L439.8,84.6 L440.1,76.2 L440.5,84.5 L440.8,76.1 L441.2,84.6 L441.5,76.4 L441.8,84.8 L442.2,76.7 L442.5,84.8 L442.9,76.1 L443.2,84.9 L443.5,76.6 L443.9,84.8 L444.2,76.4 L444.6,84.9 L444.9,76.6 L445.2,84.7 L445.6,76.2 L445.9,85.1 L446.3,76.8 L446.6,85.2 L446.9,76.5 L447.3,85.4 L447.6,76.6 L448.0,84.9 L448.3,76.6 L448.6,85.2 L449.0,76.7 L449.3,85.1 L449.7,76.9 L450.0,85.3 L450.3,76.8 L450.7,84.9 L451.0,77.1 L451.4,85.1 L451.7,76.6 L452.0,84.9 L452.4,76.7 L452.7,85.4 L453.1,77.0 L453.4,85.3 L453.7,76.9 L454.1,85.4 L454.4,76.9 L454.8,85.3 L455.1,76.9 L455.4,85.3 L455.8,76.8 L456.1,85.1 L456.5,77.0 L456.8,85.4 L457.1,76.6 L457.5,85.6 L457.8,76.6 L458.2,85.2 L458.5,76.7 L458.8,85.4 L459.2,77.3 L459.5,85.6 L459.9,77.4 L460.2,85.8 L460.5,77.3 L460.9,85.7 L461.2,77.2 L461.6,85.5 L461.9,77.2 L462.2,85.6 L462.6,77.3 L462.9,85.5 L463.3,77.5 L463.6,85.6 L463.9,77.1 L464.3,85.8 L464.6,77.4 L465.0,86.0 L465.3,77.1 L465.6,85.9 L466.0,77.3 L466.3,85.6 L466.7,77.3 L467.0,85.6 L467.3,77.5 L467.7,86.1 L468.0,77.6 L468.4,85.7 L468.7,77.7 L469.0,86.0 L469.4,77.5 L469.7,86.1 L470.1,77.8 L470.4,85.5 L470.7,77.7 L471.1,85.8 L471.4,77.4 L471.8,86.1 L472.1,77.6 L472.4,86.1 L472.8,77.8 L473.1,86.3 L473.5,77.2 L473.8,86.3 L474.1,77.6 L474.5,85.9 L474.8,77.6 L475.2,86.4 L475.5,77.5 L475.8,85.9 L476.2,78.0 L476.5,86.1 L476.9,77.5 L477.2,86.4 L477.5,77.4 L477.9,86.3 L478.2,78.0 L478.6,86.1 L478.9,77.8 L479.2,86.3 L479.6,77.7 L479.9,86.4 L480.3,77.8 L480.6,86.3 L480.9,77.7 L481.3,85.9 L481.6,77.9 L482.0,86.1 L482.3,78.0 L482.6,86.0 L483.0,78.0 L483.3,86.6 L483.7,78.1 L484.0,86.1 L484.3,77.9 L484.7,86.3 L485.0,78.2 L485.4,86.6 L485.7,77.8 L486.0,86.7 L486.4,78.3 L486.7,86.7 L487.1,78.4 L487.4,86.5 L487.7,78.1 L488.1,86.2 L488.4,78.3 L488.8,86.3 L489.1,77.8 L489.4,86.8 L489.8,78.1 L490.1,86.7 L490.5,78.0 L490.8,86.9 L491.1,77.9 L491.5,87.0 L491.8,78.4 L492.2,87.0 L492.5,78.2 L492.8,86.9 L493.2,78.2 L493.5,86.9 L493.9,78.1 L494.2,86.7 L494.5,78.1 L494.9,86.4 L495.2,78.5 L495.6,86.6 L495.9,78.2 L496.2,86.7 L496.6,78.7 L496.9,86.7 L497.3,78.6 L497.6,87.1 L497.9,78.3 L498.3,86.8 L498.6,78.7 L499.0,87.2 L499.3,78.3 L499.6,86.8 L500.0,78.3 L500.3,87.3 L500.7,78.9 L501.0,87.2 L501.3,78.6 L501.7,86.7 L502.0,78.6 L502.4,87.1 L502.7,78.8 L503.0,87.2 L503.4,78.8 L503.7,87.1 L504.1,78.7 L504.4,86.9 L504.7,78.7 L505.1,87.2 L505.4,79.1 L505.8,87.0 L506.1,79.0 L506.4,87.1 L506.8,78.6 L507.1,87.4 L507.5,79.2 L507.8,87.2 L508.1,78.7 L508.5,87.6 L508.8,78.7 L509.2,87.2 L509.5,79.3 L509.8,87.1 L510.2,79.0 L510.5,87.7 L510.9,79.1 L511.2,87.2 L511.5,78.8 L511.9,87.5 L512.2,78.9 L512.6,87.7 L512.9,79.4 L513.2,87.2 L513.6,79.4 L513.9,87.3 L514.3,79.4 L514.6,87.6 L514.9,79.3 L515.3,87.9 L515.6,79.2 L516.0,87.7 L516.3,79.4 L516.6,87.8 L517.0,79.6 L517.3,87.7 L517.7,79.0 L518.0,87.8 L518.3,79.4 L518.7,88.0 L519.0,79.2 L519.4,87.6 L519.7,79.2 L520.0,87.8 L520.4,79.6 L520.7,87.5 L521.1,79.1 L521.4,87.9 L521.7,79.7 L522.1,87.8 L522.4,79.7 L522.8,88.1 L523.1,79.3 L523.4,87.8 L523.8,79.6 L524.1,88.0 L524.5,79.7 L524.8,87.9 L525.1,79.3 L525.5,88.1 L525.8,79.4 L526.2,87.9 L526.5,79.4 L526.8,87.7 L527.2,79.8 L527.5,87.6 L527.9,79.2 L528.2,88.0 L528.5,79.6 L528.9,87.7 L529.2,79.6 L529.6,87.9 L529.9,79.5 L530.2,88.0 L530.6,79.2 L530.9,87.9 L531.3,79.5 L531.6,88.1 L531.9,79.3 L532.3,87.7 L532.6,79.3 L533.0,87.8 L533.3,79.5 L533.6,87.7 L534.0,79.5 L534.3,87.7 L534.7,79.5 L535.0,87.7 L535.3,79.6 L535.7,87.8 L536.0,79.4 L536.4,87.5 L536.7,79.8 L537.0,87.6 L537.4,79.1 L537.7,87.8 L538.1,79.8 L538.4,88.0 L538.7,79.2 L539.1,87.9 L539.4,79.6 L539.8,87.9 L540.1,79.5 L540.4,88.0 L540.8,79.2 L541.1,87.5 L541.5,79.5 L541.8,87.9 L542.1,79.6 L542.5,87.9 L542.8,79.3 L543.2,87.7 L543.5,79.2 L543.8,87.8 L544.2,79.3 L544.5,87.6 L544.9,79.2 L545.2,87.5 L545.5,79.5 L545.9,87.9 L546.2,79.1 L546.6,88.0 L546.9,79.2 L547.2,88.0 L547.6,79.6 L547.9,87.4 L548.3,79.5 L548.6,87.8 L548.9,79.5 L549.3,87.9 L549.6,79.3 L550.0,88.0 L550.3,79.7 L550.6,88.0 L551.0,79.8 L551.3,87.5 L551.7,79.7 L552.0,87.6 L552.3,79.5 L552.7,88.0 L553.0,79.8 L553.4,87.6 L553.7,79.4 L554.0,87.8 L554.4,79.3 L554.7,87.5 L555.1,79.8 L555.4,87.5 L555.7,79.4 L556.1,87.6 L556.4,79.4 L556.8,87.4 L557.1,79.3 L557.4,87.6 L557.8,79.2 L558.1,87.7 L558.5,79.3 L558.8,87.7 L559.1,79.2 L559.5,87.5 L559.8,79.2 L560.2,87.4 L560.5,79.6 L560.8,87.9 L561.2,79.6 L561.5,87.7 L561.9,79.4 L562.2,87.6 L562.5,79.4 L562.9,87.7 L563.2,79.7 L563.6,87.7 L563.9,79.3 L564.2,87.5 L564.6,79.4 L564.9,87.7 L565.3,79.5 L565.6,88.0 L565.9,79.2 L566.3,87.4 L566.6,79.3 L567.0,87.5 L567.3,79.3 L567.6,88.0 L568.0,79.6 L568.3,87.5 L568.7,79.3 L569.0,87.5 L569.3,79.8 L569.7,87.4 L570.0,79.5 L570.4,87.6 L570.7,79.3 L571.0,88.0 L571.4,79.5 L571.7,87.9 L572.1,79.7 L572.4,87.5 L572.7,79.4 L573.1,87.5 L573.4,79.7 L573.8,87.5 L574.1,79.3 L574.4,87.4 L574.8,79.8 L575.1,87.6 L575.5,79.5 L575.8,87.9 L576.1,79.6 L576.5,87.4 L576.8,79.2 L577.2,87.9 L577.5,79.2 L577.8,87.9 L578.2,79.4 L578.5,87.7 L578.9,79.8 L579.2,87.6 L579.5,79.7 L579.9,87.7 L580.2,79.5 L580.6,87.4 L580.9,79.7 L581.2,87.9 L581.6,79.8 L581.9,87.4 L582.3,79.5 L582.6,87.4 L582.9,79.5 L583.3,88.0 L583.6,79.7 L584.0,87.4 L584.3,79.6 L584.6,87.4 L585.0,79.6 L585.3,87.9 L585.7,79.3 L586.0,87.8 L586.3,79.8 L586.7,87.8 L587.0,79.5 L587.4,87.8 L587.7,79.6 L588.0,87.6 L588.4,79.2 L588.7,88.0 L589.1,79.4 L589.4,87.4 L589.7,79.4 L590.1,87.7 L590.4,79.4 L590.8,87.8 L591.1,79.7 L591.4,87.6 L591.8,79.4 L592.1,87.7 L592.5,79.2 L592.8,87.9 L593.1,79.3 L593.5,87.9 L593.8,79.2 L594.2,87.5 L594.5,79.8 L594.8,87.8 L595.2,79.4 L595.5,87.9 L595.9,79.6 L596.2,87.7 L596.5,79.3 L596.9,87.5 L597.2,79.3 L597.6,87.7 L597.9,79.4 L598.2,87.6 L598.6,79.5 L598.9,87.9 L599.3,79.5 L599.6,87.8 L599.9,79.7 L600.3,87.7 L600.6,79.8 L601.0,87.6 L601.3,79.7 L601.6,87.5 L602.0,79.6 L602.3,87.7 L602.7,79.8 L603.0,87.9 L603.3,79.7 L603.7,87.7 L604.0,79.2 L604.4,87.4 L604.7,79.4 L605.0,87.5 L605.4,79.3 L605.7,87.7 L606.1,79.5 L606.4,87.6 L606.7,79.8 L607.1,87.9 L607.4,79.3 L607.8,87.9 L608.1,79.5 L608.4,87.7 L608.8,79.8 L609.1,88.0 L609.5,79.9 L609.8,87.5 L610.1,79.2 L610.5,87.8 L610.8,79.4 L611.2,87.6 L611.5,79.7 L611.8,87.6 L612.2,79.3 L612.5,87.6 L612.9,79.8 L613.2,87.6 L613.5,79.5 L613.9,87.4 L614.2,79.5 L614.6,87.4 L614.9,79.6 L615.2,87.7 L615.6,79.4 L615.9,87.6 L616.3,79.4 L616.6,87.7 L616.9,79.9 L617.3,87.4 L617.6,79.7 L618.0,87.8 L618.3,79.4 L618.6,88.0 L619.0,79.5 L619.3,87.9 L619.7,79.8 L620.0,87.3 L620.3,79.5 L620.7,87.9 L621.0,79.8 L621.4,87.7 L621.7,79.4 L622.0,87.5 L622.4,79.8 L622.7,87.4 L623.1,79.7 L623.4,87.7 L623.7,79.5 L624.1,87.6 L624.4,79.4 L624.8,87.8 L625.1,79.4 L625.4,88.0 L625.8,79.7 L626.1,87.6 L626.5,79.7 L626.8,87.6 L627.1,79.7 L627.5,87.9 L627.8,79.9 L628.2,87.8 L628.5,79.6 L628.8,87.6 L629.2,79.5 L629.5,87.8 L629.9,79.7 L630.2,87.4 L630.5,79.5 L630.9,87.8 L631.2,79.3 L631.6,87.9 L631.9,79.7 L632.2,87.7 L632.6,79.9 L632.9,87.7 L633.3,79.9 L633.6,87.7 L633.9,79.9 L634.3,87.9 L634.6,79.8 L635.0,87.8 L635.3,79.3 L635.6,87.3 L636.0,79.4 L636.3,87.8 L636.7,79.4 L637.0,87.7 L637.3,79.3 L637.7,87.7 L638.0,79.7 L638.4,87.3 L638.7,79.5 L639.0,87.3 L639.4,79.4 L639.7,87.8 L640.1,79.6 L640.4,87.8 L640.7,79.7 L641.1,87.4 L641.4,79.4 L641.8,87.6 L642.1,79.4 L642.4,87.4 L642.8,79.7 L643.1,87.8 L643.5,79.9 L643.8,87.8 L644.1,79.3 L644.5,87.4 L644.8,79.3 L645.2,87.4 L645.5,79.3 L645.8,87.6 L646.2,79.7 L646.5,87.6 L646.9,79.5 L647.2,87.8 L647.5,79.8 L647.9,87.4 L648.2,79.4 L648.6,87.7 L648.9,79.8 L649.2,87.3 L649.6,79.5 L649.9,87.6 L650.3,79.9 L650.6,87.8 L650.9,79.9 L651.3,87.9 L651.6,79.6 L652.0,87.8 L652.3,79.6 L652.6,87.6 L653.0,79.6 L653.3,87.3 L653.7,79.3 L654.0,87.9 L654.3,79.7 L654.7,87.5 L655.0,79.5 L655.4,87.8 L655.7,79.8 L656.0,87.4 L656.4,79.7 L656.7,87.6 L657.1,79.8 L657.4,87.6 L657.7,79.4 L658.1,87.6 L658.4,79.7 L658.8,87.6 L659.1,79.4 L659.4,87.7 L659.8,79.5 L660.1,87.3 L660.5,79.6 L660.8,87.5 L661.1,79.9 L661.5,87.3 L661.8,79.5 L662.2,87.4 L662.5,79.7 L662.8,87.6 L663.2,79.7 L663.5,87.4 L663.9,79.5 L664.2,87.7 L664.5,79.8 L664.9,87.5 L665.2,79.8 L665.6,87.6 L665.9,79.6 L666.2,87.8 L666.6,79.8 L666.9,87.3 L667.3,79.5 L667.6,87.6 L667.9,79.8 L668.3,87.4 L668.6,79.9 L669.0,87.5 L669.3,79.5 L669.6,87.8 L670.0,79.4 L670.3,87.7 L670.7,79.9 L671.0,87.9 L671.3,79.9 L671.7,87.7 L672.0,79.9 L672.4,87.8 L672.7,79.4 L673.0,87.4 L673.4,79.4 L673.7,87.3 L674.1,79.9 L674.4,87.3 L674.7,80.0 L675.1,87.8 L675.4,79.7 L675.8,87.8 L676.1,79.8 L676.4,87.7 L676.8,79.5 L677.1,87.5 L677.5,79.6 L677.8,87.3 L678.1,79.8 L678.5,87.8 L678.8,79.4 L679.2,87.5 L679.5,80.0 L679.8,87.5 L680.2,79.5 L680.5,87.5 L680.9,79.6 L681.2,87.6 L681.5,79.8 L681.9,87.5 L682.2,79.5 L682.6,87.4 L682.9,79.7 L683.2,87.5 L683.6,79.4 L683.9,87.3 L684.3,79.9 L684.6,87.4 L684.9,79.9 L685.3,87.9 L685.6,79.6 L686.0,87.4 L686.3,79.6 L686.6,87.8 L687.0,80.0 L687.3,87.4 L687.7,79.5 L688.0,87.8 L688.3,79.5 L688.7,87.7 L689.0,79.9 L689.4,87.5 L689.7,79.4 L690.0,87.8 L690.4,79.5 L690.7,87.5 L691.1,79.9 L691.4,87.4 L691.7,79.7 L692.1,87.6 L692.4,79.6 L692.8,87.5 L693.1,79.6 L693.4,87.4 L693.8,79.7 L694.1,87.3 L694.5,79.4 L694.8,87.4 L695.1,79.9 L695.5,87.4 L695.8,79.9 L696.2,87.6 L696.5,79.8 L696.8,87.5 L697.2,79.4 L697.5,87.7 L697.9,79.6 L698.2,87.6 L698.5,79.7 L698.9,87.3 L699.2,80.0 L699.6,87.6 L699.9,79.6 L700.2,87.7 L700.6,79.6 L700.9,87.3 L701.3,79.8 L701.6,87.6 L701.9,79.4 L702.3,87.3 L702.6,79.6 L703.0,87.6 L703.3,79.8 L703.6,87.6 L704.0,79.4 L704.3,87.3 L704.7,79.9 L705.0,87.2 L705.3,79.5 L705.7,87.3 L706.0,79.7 L706.4,87.6 L706.7,79.6 L707.0,87.7 L707.4,79.9 L707.7,87.7 L708.1,79.7 L708.4,87.5 L708.7,79.9 L709.1,87.7 L709.4,79.8 L709.8,87.5 L710.1,80.0 L710.4,87.5 L710.8,79.4 L711.1,87.4 L711.5,79.8 L711.8,87.5 L712.1,79.5 L712.5,87.7 L712.8,79.7" fill="none" stroke="#0000ff" stroke-width="1.7" stroke-linejoin="miter" stroke-miterlimit="2" stroke-dasharray="1.5 1.5"/><path d="M113.1,354.5 L113.8,350.7 L114.5,354.5ZM117.5,431.1 L118.2,435.3 L118.9,431.1ZM126.4,407.7 L127.1,403.4 L127.8,407.7ZM132.4,393.6 L133.1,390.1 L133.8,393.6ZM154.4,381.7 L155.1,375.8 L155.8,381.7ZM184.4,296.4 L185.1,289.2 L185.8,296.4ZM196.0,268.6 L196.7,261.8 L197.4,268.6ZM216.9,225.6 L217.6,220.3 L218.3,225.6ZM227.9,207.1 L228.6,200.0 L229.3,207.1ZM230.1,220.0 L230.8,225.6 L231.5,220.0ZM230.8,202.0 L231.5,194.6 L232.2,202.0ZM237.2,207.4 L237.9,212.8 L238.6,207.4ZM242.6,199.1 L243.3,207.4 L244.0,199.1ZM252.4,183.6 L253.1,189.8 L253.8,183.6ZM260.5,170.0 L261.2,177.8 L261.9,170.0ZM262.7,166.0 L263.4,173.6 L264.1,166.0ZM266.0,161.2 L266.7,164.5 L267.4,161.2ZM270.9,142.7 L271.6,137.0 L272.3,142.7ZM272.9,139.9 L273.6,133.2 L274.3,139.9ZM278.5,145.3 L279.2,152.9 L279.9,145.3ZM292.5,123.3 L293.2,127.0 L293.9,123.3ZM296.5,116.0 L297.2,122.1 L297.9,116.0ZM297.0,104.9 L297.7,96.5 L298.4,104.9ZM300.0,99.2 L300.7,93.2 L301.4,99.2ZM300.5,109.4 L301.2,116.6 L301.9,109.4ZM312.0,82.2 L312.7,76.7 L313.4,82.2ZM312.5,91.0 L313.2,99.4 L313.9,91.0ZM313.0,81.4 L313.7,76.0 L314.4,81.4ZM316.0,78.7 L316.7,72.1 L317.4,78.7ZM320.4,75.5 L321.1,68.7 L321.8,75.5ZM327.6,78.0 L328.3,84.8 L329.0,78.0ZM334.4,75.3 L335.1,80.8 L335.8,75.3ZM341.5,65.7 L342.2,58.5 L342.9,65.7ZM342.5,72.9 L343.2,79.2 L343.9,72.9ZM342.9,65.7 L343.6,58.2 L344.3,65.7ZM344.2,65.5 L344.9,61.2 L345.6,65.5ZM345.3,72.6 L346.0,77.8 L346.7,72.6ZM349.0,64.3 L349.7,55.8 L350.4,64.3ZM360.2,70.0 L360.9,76.4 L361.6,70.0ZM362.6,63.6 L363.3,56.8 L364.0,63.6ZM363.6,70.8 L364.3,76.6 L365.0,70.8ZM365.0,71.1 L365.7,76.6 L366.4,71.1ZM366.7,64.3 L367.4,58.4 L368.1,64.3ZM367.7,71.6 L368.4,78.5 L369.1,71.6ZM368.7,64.5 L369.4,56.5 L370.1,64.5ZM370.1,65.3 L370.8,61.1 L371.5,65.3ZM371.8,72.5 L372.5,80.4 L373.2,72.5ZM375.9,73.0 L376.6,77.8 L377.3,73.0ZM386.1,76.1 L386.8,79.7 L387.5,76.1ZM391.2,70.9 L391.9,62.4 L392.6,70.9ZM398.0,72.0 L398.7,65.2 L399.4,72.0ZM403.1,79.9 L403.8,88.0 L404.5,79.9ZM405.4,73.2 L406.1,67.1 L406.8,73.2ZM414.6,81.6 L415.3,87.8 L416.0,81.6ZM415.6,74.8 L416.3,66.8 L417.0,74.8ZM419.4,82.0 L420.1,86.7 L420.8,82.0ZM419.7,75.4 L420.4,68.3 L421.1,75.4ZM421.4,82.0 L422.1,88.0 L422.8,82.0ZM427.2,76.3 L427.9,68.2 L428.6,76.3ZM430.6,76.5 L431.3,72.6 L432.0,76.5ZM443.2,83.8 L443.9,87.6 L444.6,83.8ZM445.9,84.2 L446.6,92.6 L447.3,84.2ZM448.6,84.1 L449.3,89.6 L450.0,84.1ZM450.3,78.1 L451.0,73.8 L451.7,78.1ZM450.7,84.1 L451.4,89.6 L452.1,84.1ZM451.0,77.6 L451.7,71.5 L452.4,77.6ZM455.1,77.8 L455.8,69.7 L456.5,77.8ZM456.8,84.6 L457.5,91.5 L458.2,84.6ZM459.8,78.3 L460.5,71.4 L461.2,78.3ZM461.2,78.2 L461.9,73.1 L462.6,78.2ZM461.9,78.3 L462.6,70.0 L463.3,78.3ZM464.3,85.0 L465.0,91.5 L465.7,85.0ZM464.6,78.1 L465.3,70.1 L466.0,78.1ZM466.3,84.6 L467.0,93.0 L467.7,84.6ZM468.7,78.5 L469.4,74.5 L470.1,78.5ZM470.4,84.8 L471.1,90.1 L471.8,84.8ZM471.4,78.6 L472.1,71.6 L472.8,78.6ZM472.1,78.8 L472.8,72.7 L473.5,78.8ZM472.8,78.2 L473.5,74.0 L474.2,78.2ZM480.9,78.9 L481.6,70.5 L482.3,78.9ZM484.3,79.2 L485.0,73.0 L485.7,79.2ZM485.0,78.8 L485.7,74.7 L486.4,78.8ZM487.0,79.1 L487.7,75.5 L488.4,79.1ZM494.9,85.6 L495.6,93.6 L496.3,85.6ZM496.6,79.6 L497.3,71.5 L498.0,79.6ZM496.9,86.1 L497.6,91.5 L498.3,86.1ZM499.3,79.3 L500.0,73.7 L500.7,79.3ZM500.6,79.6 L501.3,71.2 L502.0,79.6ZM501.0,85.7 L501.7,89.2 L502.4,85.7ZM501.7,86.1 L502.4,93.7 L503.1,86.1ZM512.2,80.4 L512.9,72.0 L513.6,80.4ZM513.9,86.6 L514.6,92.8 L515.3,86.6ZM514.6,86.9 L515.3,93.9 L516.0,86.9ZM514.9,80.2 L515.6,72.2 L516.3,80.2ZM515.3,86.7 L516.0,91.6 L516.7,86.7ZM516.3,80.6 L517.0,76.2 L517.7,80.6ZM517.3,86.8 L518.0,91.5 L518.7,86.8ZM520.7,86.9 L521.4,90.9 L522.1,86.9ZM522.7,86.8 L523.4,91.5 L524.1,86.8ZM523.4,87.0 L524.1,94.5 L524.8,87.0ZM529.5,87.0 L530.2,91.9 L530.9,87.0ZM530.6,80.5 L531.3,75.3 L532.0,80.5ZM531.9,80.3 L532.6,74.9 L533.3,80.3ZM534.6,80.6 L535.3,72.8 L536.0,80.6ZM539.1,86.9 L539.8,93.1 L540.5,86.9ZM539.7,87.0 L540.4,94.5 L541.1,87.0ZM540.8,80.5 L541.5,72.9 L542.2,80.5ZM541.4,80.6 L542.1,75.7 L542.8,80.6ZM543.5,80.3 L544.2,72.5 L544.9,80.3ZM546.9,80.6 L547.6,77.1 L548.3,80.6ZM552.0,87.0 L552.7,92.1 L553.4,87.0ZM556.1,86.4 L556.8,92.3 L557.5,86.4ZM564.2,86.7 L564.9,92.1 L565.6,86.7ZM566.3,86.5 L567.0,92.9 L567.7,86.5ZM566.6,80.3 L567.3,72.1 L568.0,80.3ZM569.3,80.5 L570.0,72.7 L570.7,80.5ZM571.7,86.5 L572.4,93.3 L573.1,86.5ZM575.1,86.9 L575.8,94.7 L576.5,86.9ZM579.2,86.7 L579.9,90.9 L580.6,86.7ZM580.9,80.8 L581.6,73.4 L582.3,80.8ZM581.9,86.4 L582.6,93.0 L583.3,86.4ZM583.9,86.4 L584.6,93.1 L585.3,86.4ZM586.0,86.8 L586.7,91.8 L587.4,86.8ZM586.7,86.8 L587.4,91.3 L588.1,86.8ZM587.0,80.6 L587.7,73.6 L588.4,80.6ZM597.2,80.4 L597.9,75.7 L598.6,80.4ZM599.2,80.7 L599.9,75.7 L600.6,80.7ZM604.0,80.4 L604.7,72.7 L605.4,80.4ZM607.7,86.7 L608.4,91.7 L609.1,86.7ZM608.8,80.9 L609.5,72.4 L610.2,80.9ZM609.1,86.5 L609.8,92.5 L610.5,86.5ZM610.5,86.6 L611.2,91.2 L611.9,86.6ZM611.8,86.6 L612.5,90.5 L613.2,86.6ZM618.3,80.5 L619.0,73.4 L619.7,80.5ZM619.0,80.8 L619.7,75.7 L620.4,80.8ZM627.8,80.6 L628.5,72.6 L629.2,80.6ZM628.1,86.6 L628.8,94.2 L629.5,86.6ZM630.2,86.8 L630.9,94.8 L631.6,86.8ZM632.6,80.9 L633.3,75.2 L634.0,80.9ZM634.3,86.8 L635.0,92.0 L635.7,86.8ZM637.0,86.7 L637.7,94.1 L638.4,86.7ZM638.0,80.5 L638.7,73.9 L639.4,80.5ZM639.4,80.6 L640.1,74.8 L640.8,80.6ZM644.5,86.4 L645.2,90.8 L645.9,86.4ZM646.2,80.5 L646.9,74.5 L647.6,80.5ZM646.8,80.8 L647.5,73.4 L648.2,80.8ZM648.2,80.8 L648.9,73.6 L649.6,80.8ZM653.0,80.3 L653.7,75.5 L654.4,80.3ZM653.3,86.9 L654.0,94.0 L654.7,86.9ZM659.4,86.3 L660.1,92.3 L660.8,86.3ZM661.5,86.4 L662.2,93.0 L662.9,86.4ZM668.6,80.5 L669.3,72.6 L670.0,80.5ZM672.7,80.4 L673.4,72.3 L674.1,80.4ZM673.0,86.3 L673.7,91.4 L674.4,86.3ZM678.1,80.4 L678.8,77.1 L679.5,80.4ZM681.5,80.5 L682.2,72.2 L682.9,80.5ZM689.7,80.5 L690.4,75.4 L691.1,80.5ZM692.1,86.5 L692.8,90.1 L693.5,86.5ZM692.4,80.6 L693.1,73.9 L693.8,80.6ZM693.1,80.7 L693.8,74.8 L694.5,80.7ZM698.5,81.0 L699.2,75.5 L699.9,81.0ZM700.2,86.3 L700.9,94.3 L701.6,86.3ZM708.7,80.8 L709.4,73.4 L710.1,80.8ZM710.4,86.4 L711.1,90.7 L711.8,86.4ZM711.4,80.5 L712.1,77.0 L712.8,80.5Z" fill="#0000ff" stroke="#0000ff" stroke-width="0.5"/>
<path d="M113.2,458.0 L320.3,26.5" stroke="#000" stroke-width="1.2" stroke-dasharray="3.7 6.8" fill="none"/>
<path d="M113.5,366.0 L114.1,370.2 L114.9,413.3 L115.9,403.5 L116.9,448.8 L117.9,424.8 L118.9,467.0 L119.9,434.5 L120.9,464.1 L121.9,424.4 L122.9,453.8 L123.9,411.4 L124.9,439.8 L125.9,398.3 L126.9,424.5 L127.9,383.4 L128.9,411.4 L129.9,369.8 L130.9,400.1 L131.9,358.5 L132.9,387.5 L133.9,345.3 L134.9,374.4 L135.9,333.3 L136.9,361.9 L137.9,320.0 L138.9,348.1 L139.9,312.1 L140.9,337.3 L141.9,301.9 L142.9,329.0 L143.9,295.5 L144.9,319.5 L145.9,286.2 L146.9,311.0 L147.9,279.6 L148.9,302.8 L149.9,272.7 L150.9,297.0 L151.9,268.3 L152.9,291.4 L153.9,262.4 L154.9,287.6 L155.9,259.2 L156.9,281.2 L157.9,255.1 L158.9,277.3 L159.9,251.4 L160.9,273.3 L161.9,246.6 L162.8,268.3 L163.8,243.0 L164.8,263.3 L165.7,240.4 L166.6,260.1 L167.5,236.8 L168.4,257.1 L169.2,234.3 L170.1,254.0 L170.9,231.3 L171.8,250.0 L172.6,229.2 L173.4,247.3 L174.2,226.2 L175.0,244.2 L175.8,223.5 L176.5,242.3 L177.3,222.1 L178.1,239.5 L178.8,219.0 L179.5,236.1 L180.3,216.4 L181.0,232.8 L181.7,214.2 L182.4,231.5 L183.1,212.1 L183.8,228.6 L184.5,209.1 L185.2,225.8 L185.8,207.6 L186.5,223.5 L187.2,205.0 L187.9,220.5 L188.5,203.3 L189.2,219.0 L189.8,200.4 L190.5,217.1 L191.1,199.1 L191.7,213.5 L192.4,196.8 L193.0,211.8 L193.6,195.4 L194.2,210.3 L194.9,194.2 L195.5,208.7 L196.1,192.3 L196.7,208.1 L197.3,191.5 L198.0,206.2 L198.6,189.8 L199.2,204.1 L199.8,189.1 L200.4,202.9 L201.1,188.3 L201.7,201.2 L202.3,186.8 L202.9,200.8 L203.5,185.3 L204.2,198.4 L204.8,183.8 L205.4,197.8 L206.0,182.8 L206.6,196.1 L207.3,182.0 L207.9,194.6 L208.5,181.5 L209.1,194.3 L209.7,180.6 L210.4,193.8 L211.0,179.2 L211.6,193.4 L212.2,178.6 L212.8,192.2 L213.5,178.9 L214.1,192.1 L214.7,178.1 L215.3,190.6 L215.9,176.8 L216.6,189.8 L217.2,176.1 L217.8,189.7 L218.4,176.2 L219.0,188.7 L219.7,175.1 L220.3,188.0 L220.9,174.5 L221.5,187.1 L222.1,173.4 L222.8,187.1 L223.4,172.1 L224.0,185.5 L224.6,171.4 L225.2,184.6 L225.9,170.5 L226.5,183.6 L227.1,169.1 L227.7,182.3 L228.3,168.6 L229.0,181.0 L229.6,166.8 L230.2,180.4 L230.8,166.7 L231.4,178.8 L232.1,165.2 L232.7,178.1 L233.3,164.2 L233.9,176.5 L234.5,163.4 L235.2,175.2 L235.8,162.5 L236.4,174.7 L237.0,161.3 L237.6,174.3 L238.3,160.2 L238.9,173.2 L239.5,159.8 L240.1,172.5 L240.7,158.7 L241.4,171.8 L242.0,157.7 L242.6,170.5 L243.2,156.8 L243.8,170.2 L244.5,156.6 L245.1,168.9 L245.7,155.8 L246.3,167.8 L246.9,154.3 L247.6,166.7 L248.2,153.6 L248.8,166.2 L249.4,152.8 L250.0,165.2 L250.7,153.0 L251.3,165.4 L251.9,152.5 L252.5,165.8 L253.1,152.6 L253.8,165.4 L254.4,151.8 L255.0,165.1 L255.6,152.3 L256.2,164.9 L256.9,152.5 L257.5,164.7 L258.1,152.2 L258.7,164.9 L259.3,152.4 L260.0,164.4 L260.6,151.7 L261.2,164.9 L261.8,151.5 L262.4,164.2 L263.1,151.3 L263.7,164.2 L264.3,151.8 L264.9,164.0 L265.5,151.4 L266.2,163.5 L266.8,151.2 L267.4,162.9 L268.0,150.7 L268.6,163.0 L269.3,150.6 L269.9,162.2 L270.5,149.7 L271.1,161.8 L271.7,149.9 L272.4,162.1 L273.0,149.1 L273.6,161.6 L274.2,148.4 L274.8,161.4 L275.5,148.3 L276.1,160.3 L276.7,147.8 L277.3,160.0 L277.9,147.5 L278.6,159.9 L279.2,147.4 L279.8,159.5 L280.4,147.0 L281.0,159.1 L281.7,146.0 L282.3,158.6 L282.9,146.4 L283.5,158.4 L284.1,145.3 L284.8,158.1 L285.4,145.7 L286.0,157.7 L286.6,145.5 L287.2,156.8 L287.9,145.1 L288.5,156.4 L289.1,144.0 L289.7,156.1 L290.3,143.6 L291.0,155.9 L291.6,143.5 L292.2,155.5 L292.8,143.1 L293.4,155.2 L294.1,143.0 L294.7,155.6 L295.3,143.2 L295.9,155.9 L296.5,143.5 L297.2,155.2 L297.8,143.5 L298.4,155.9 L299.0,144.0 L299.6,155.5 L300.3,143.9 L300.9,155.5 L301.5,143.7 L302.1,156.0 L302.7,144.0 L303.4,155.4 L304.0,143.9 L304.6,156.3 L305.2,143.9 L305.8,156.3 L306.5,143.9 L307.1,155.8 L307.7,143.7 L308.3,156.6 L308.9,143.9 L309.6,156.6 L310.2,144.8 L310.8,156.5 L311.4,144.8 L312.0,156.7 L312.7,144.5 L313.3,157.3 L313.9,144.8 L314.5,156.9 L315.1,144.7 L315.8,157.6 L316.4,144.7 L317.0,157.1 L317.6,145.4 L318.2,158.0 L318.9,145.4 L319.5,157.3 L320.1,145.5 L320.7,158.3 L321.3,145.7 L322.0,158.4 L322.6,145.6 L323.2,157.8 L323.8,146.6 L324.4,158.2 L325.1,146.0 L325.7,158.5 L326.3,146.3 L326.9,158.7 L327.5,146.4 L328.2,159.4 L328.8,147.3 L329.4,159.2 L330.0,146.8 L330.6,158.9 L331.3,147.1 L331.9,159.6 L332.5,147.2 L333.1,159.7 L333.7,147.6 L334.4,159.4 L335.0,147.9 L335.6,159.5 L336.2,148.0 L336.8,160.5 L337.5,148.3 L338.1,160.3 L338.7,148.5 L339.3,160.7 L339.9,148.5 L340.6,160.3 L341.2,148.6 L341.8,161.1 L342.4,148.8 L343.0,161.3 L343.7,148.9 L344.3,161.3 L344.9,149.2 L345.5,161.5 L346.1,149.6 L346.8,161.9 L347.4,149.7 L348.0,161.5 L348.6,150.0 L349.2,161.4 L349.9,150.0 L350.5,162.2 L351.1,150.3 L351.7,162.5 L352.3,150.8 L353.0,161.9 L353.6,150.5 L354.2,162.5 L354.8,151.1 L355.4,162.9 L356.1,150.7 L356.7,162.7 L357.3,151.6 L357.9,162.8 L358.5,151.4 L359.2,163.4 L359.8,151.5 L360.4,163.4 L361.0,152.2 L361.6,164.0 L362.3,152.2 L362.9,164.6 L363.5,152.9 L364.1,165.0 L364.7,152.5 L365.4,164.6 L366.0,153.4 L366.6,164.7 L367.2,153.8 L367.8,165.1 L368.5,153.6 L369.1,165.8 L369.7,154.0 L370.3,165.7 L370.9,154.2 L371.6,166.7 L372.2,154.5 L372.8,167.0 L373.4,154.7 L374.0,166.7 L374.7,155.4 L375.3,166.7 L375.9,155.3 L376.5,167.9 L377.1,155.8 L377.8,167.2 L378.4,156.5 L379.0,168.0 L379.6,156.0 L380.2,168.1 L380.9,156.3 L381.5,168.7 L382.1,156.5 L382.7,169.0 L383.3,157.0 L384.0,168.9 L384.6,157.3 L385.2,169.0 L385.8,157.9 L386.4,170.0 L387.1,158.0 L387.7,169.8 L388.3,158.8 L388.9,170.4 L389.5,158.9 L390.2,170.5 L390.8,159.4 L391.4,171.2 L392.0,159.4 L392.6,171.6 L393.3,159.2 L393.9,171.7 L394.5,159.9 L395.1,172.0 L395.7,160.1 L396.4,171.9 L397.0,161.0 L397.6,172.5 L398.2,160.4 L398.8,172.5 L399.5,161.5 L400.1,173.1 L400.7,161.6 L401.3,173.8 L401.9,162.2 L402.6,173.8 L403.2,162.1 L403.8,174.2 L404.4,162.1 L405.0,174.5 L405.7,162.6 L406.3,174.2 L406.9,162.8 L407.5,175.1 L408.1,163.0 L408.8,175.3 L409.4,163.7 L410.0,175.8 L410.6,164.3 L411.2,175.5 L411.9,164.5 L412.5,176.4 L413.1,164.9 L413.7,176.5 L414.3,165.0 L415.0,177.0 L415.6,164.9 L416.2,176.9 L416.8,165.6 L417.4,177.6 L418.1,165.3 L418.7,177.7 L419.3,166.1 L419.9,177.5 L420.5,165.7 L421.2,177.7 L421.8,166.7 L422.4,178.4 L423.0,166.6 L423.6,178.8 L424.3,166.9 L424.9,178.8 L425.5,167.5 L426.1,178.4 L426.7,167.7 L427.4,179.4 L428.0,167.6 L428.6,179.5 L429.2,168.0 L429.8,179.7 L430.5,167.7 L431.1,180.3 L431.7,168.6 L432.3,179.7 L432.9,168.2 L433.6,180.3 L434.2,169.0 L434.8,180.6 L435.4,168.9 L436.0,180.6 L436.7,169.8 L437.3,180.8 L437.9,169.7 L438.5,181.4 L439.1,170.1 L439.8,181.4 L440.4,170.0 L441.0,182.3 L441.6,170.0 L442.2,181.6 L442.9,170.6 L443.5,182.2 L444.1,171.4 L444.7,183.0 L445.3,170.9 L446.0,183.5 L446.6,172.0 L447.2,183.0 L447.8,172.4 L448.4,183.4 L449.1,172.4 L449.7,184.4 L450.3,173.1 L450.9,184.4 L451.5,173.1 L452.2,185.2 L452.8,174.0 L453.4,184.9 L454.0,174.1 L454.6,185.4 L455.3,174.3 L455.9,186.3 L456.5,174.9 L457.1,186.9 L457.7,175.3 L458.4,186.9 L459.0,175.6 L459.6,187.6 L460.2,176.2 L460.8,187.8 L461.5,176.5 L462.1,187.8 L462.7,176.8 L463.3,188.0 L463.9,177.4 L464.6,188.4 L465.2,177.4 L465.8,189.0 L466.4,177.8 L467.0,189.8 L467.7,177.9 L468.3,189.7 L468.9,178.1 L469.5,190.1 L470.1,178.5 L470.8,190.1 L471.4,178.9 L472.0,191.0 L472.6,180.1 L473.2,191.3 L473.9,180.4 L474.5,191.2 L475.1,180.1 L475.7,192.1 L476.3,180.6 L477.0,192.5 L477.6,180.7 L478.2,192.4 L478.8,181.3 L479.4,193.1 L480.1,181.8 L480.7,193.3 L481.3,182.5 L481.9,193.3 L482.5,182.3 L483.2,194.3 L483.8,183.0 L484.4,194.3 L485.0,183.4 L485.6,195.1 L486.3,183.3 L486.9,195.0 L487.5,183.6 L488.1,195.1 L488.7,183.7 L489.4,196.1 L490.0,184.6 L490.6,196.3 L491.2,184.8 L491.8,196.8 L492.5,185.4 L493.1,197.2 L493.7,185.3 L494.3,197.2 L494.9,185.8 L495.6,197.6 L496.2,186.5 L496.8,197.5 L497.4,186.8 L498.0,198.2 L498.7,187.3 L499.3,198.3 L499.9,187.6 L500.5,199.2 L501.1,188.0 L501.8,198.9 L502.4,187.7 L503.0,199.3 L503.6,187.6 L504.2,199.7 L504.9,187.9 L505.5,200.1 L506.1,188.8 L506.7,199.6 L507.3,189.2 L508.0,200.1 L508.6,188.6 L509.2,200.4 L509.8,189.2 L510.4,201.2 L511.1,189.3 L511.7,200.6 L512.3,189.6 L512.9,200.8 L513.5,190.3 L514.2,201.1 L514.8,190.6 L515.4,202.1 L516.0,190.8 L516.6,202.3 L517.3,190.6 L517.9,202.3 L518.5,190.8 L519.1,202.2 L519.7,191.4 L520.4,202.8 L521.0,191.1 L521.6,203.1 L522.2,191.5 L522.8,202.9 L523.5,192.3 L524.1,203.9 L524.7,192.5 L525.3,204.2 L525.9,192.1 L526.6,203.8 L527.2,192.3 L527.8,204.3 L528.4,192.8 L529.0,204.4 L529.7,193.2 L530.3,204.4 L530.9,193.7 L531.5,204.3 L532.1,193.8 L532.8,204.6 L533.4,193.4 L534.0,204.8 L534.6,193.8 L535.2,204.9 L535.9,194.5 L536.5,205.1 L537.1,194.0 L537.7,206.0 L538.3,194.9 L539.0,205.5 L539.6,194.6 L540.2,206.5 L540.8,194.5 L541.4,206.5 L542.1,195.5 L542.7,206.9 L543.3,195.3 L543.9,206.5 L544.5,195.3 L545.2,206.9 L545.8,196.0 L546.4,207.5 L547.0,195.8 L547.6,207.3 L548.3,195.8 L548.9,207.0 L549.5,195.9 L550.1,207.6 L550.7,196.5 L551.4,208.0 L552.0,196.6 L552.6,208.3 L553.2,196.9 L553.8,207.8 L554.5,196.9 L555.1,208.5 L555.7,196.9 L556.3,208.2 L556.9,197.0 L557.6,208.4 L558.2,196.8 L558.8,208.4 L559.4,197.7 L560.0,209.0 L560.7,197.4 L561.3,208.5 L561.9,197.7 L562.5,209.2 L563.1,197.9 L563.8,208.6 L564.4,197.9 L565.0,209.3 L565.6,198.3 L566.2,208.9 L566.9,197.9 L567.5,209.6 L568.1,198.0 L568.7,209.6 L569.3,198.1 L570.0,209.4 L570.6,198.3 L571.2,209.6 L571.8,198.5 L572.4,210.3 L573.1,198.6 L573.7,209.8 L574.3,199.0 L574.9,210.0 L575.5,199.1 L576.2,210.2 L576.8,199.3 L577.4,210.3 L578.0,199.0 L578.6,210.0 L579.3,199.2 L579.9,210.4 L580.5,198.8 L581.1,210.1 L581.7,199.1 L582.4,209.8 L583.0,199.1 L583.6,210.2 L584.2,198.9 L584.8,210.1 L585.5,198.8 L586.1,210.1 L586.7,199.4 L587.3,210.7 L587.9,199.5 L588.6,210.2 L589.2,199.4 L589.8,209.8 L590.4,199.5 L591.0,210.2 L591.7,199.3 L592.3,210.2 L592.9,199.1 L593.5,210.5 L594.1,199.0 L594.8,210.7 L595.4,199.1 L596.0,210.2 L596.6,199.4 L597.2,209.9 L597.9,199.0 L598.5,210.1 L599.1,199.1 L599.7,210.1 L600.3,199.3 L601.0,210.1 L601.6,199.4 L602.2,210.0 L602.8,199.1 L603.4,210.4 L604.1,199.3 L604.7,210.8 L605.3,199.4 L605.9,210.8 L606.5,199.3 L607.2,210.2 L607.8,199.4 L608.4,210.5 L609.0,199.1 L609.6,210.1 L610.3,199.0 L610.9,210.4 L611.5,199.3 L612.1,210.8 L612.7,199.1 L613.4,210.2 L614.0,199.5 L614.6,210.1 L615.2,199.7 L615.8,210.6 L616.5,199.1 L617.1,210.1 L617.7,199.3 L618.3,210.1 L618.9,199.6 L619.6,210.9 L620.2,199.7 L620.8,210.9 L621.4,199.3 L622.0,210.5 L622.7,199.5 L623.3,210.6 L623.9,199.6 L624.5,210.4 L625.1,199.5 L625.8,210.5 L626.4,199.3 L627.0,210.1 L627.6,199.2 L628.2,210.2 L628.9,198.8 L629.5,210.4 L630.1,199.1 L630.7,210.6 L631.3,199.0 L632.0,210.0 L632.6,199.0 L633.2,210.3 L633.8,199.1 L634.4,210.4 L635.1,199.4 L635.7,209.7 L636.3,199.2 L636.9,210.0 L637.5,198.5 L638.2,209.5 L638.8,199.1 L639.4,209.8 L640.0,199.0 L640.6,209.8 L641.3,198.5 L641.9,210.0 L642.5,198.5 L643.1,209.4 L643.7,198.9 L644.4,209.2 L645.0,198.8 L645.6,209.9 L646.2,198.3 L646.8,209.9 L647.5,198.0 L648.1,209.0 L648.7,198.0 L649.3,209.4 L649.9,198.4 L650.6,209.2 L651.2,198.4 L651.8,209.5 L652.4,197.9 L653.0,208.7 L653.7,197.7 L654.3,208.8 L654.9,198.0 L655.5,209.5 L656.1,197.9 L656.8,208.8 L657.4,197.5 L658.0,208.5 L658.6,197.4 L659.2,208.4 L659.9,198.2 L660.5,208.5 L661.1,197.4 L661.7,209.1 L662.3,197.5 L663.0,208.7 L663.6,197.4 L664.2,208.2 L664.8,197.3 L665.4,208.5 L666.1,197.1 L666.7,208.0 L667.3,197.3 L667.9,208.6 L668.5,197.7 L669.2,208.7 L669.8,197.5 L670.4,208.4 L671.0,197.2 L671.6,208.5 L672.3,197.6 L672.9,208.6 L673.5,196.8 L674.1,208.2 L674.7,197.2 L675.4,208.2 L676.0,196.7 L676.6,207.8 L677.2,196.5 L677.8,207.8 L678.5,196.5 L679.1,207.8 L679.7,197.1 L680.3,207.4 L680.9,196.5 L681.6,208.0 L682.2,196.8 L682.8,207.4 L683.4,196.2 L684.0,207.7 L684.7,196.3 L685.3,207.0 L685.9,195.9 L686.5,207.2 L687.1,196.0 L687.8,207.4 L688.4,196.5 L689.0,207.0 L689.6,196.4 L690.2,206.8 L690.9,196.1 L691.5,207.1 L692.1,195.7 L692.7,207.1 L693.3,196.1 L694.0,207.0 L694.6,195.8 L695.2,206.3 L695.8,195.7 L696.4,206.3 L697.1,195.2 L697.7,206.9 L698.3,195.5 L698.9,206.0 L699.5,195.7 L700.2,205.9 L700.8,195.1 L701.4,206.1 L702.0,195.2 L702.6,205.8 L703.3,195.5 L703.9,205.7 L704.5,194.7 L705.1,205.9 L705.7,194.5 L706.4,206.1 L707.0,195.2 L707.6,205.8 L708.2,194.8 L708.8,205.6 L709.5,194.6 L710.1,205.9 L710.7,194.7 L711.3,205.4 L711.9,194.6 L712.6,205.0" fill="none" stroke="#ff00ff" stroke-width="1.5" stroke-linejoin="miter" stroke-miterlimit="2" stroke-dasharray="1.4 1.3"/><path d="M196.0,207.1 L196.7,210.3 L197.4,207.1ZM213.4,191.1 L214.1,194.2 L214.8,191.1ZM235.1,163.5 L235.8,160.5 L236.5,163.5ZM256.8,163.7 L257.5,166.8 L258.2,163.7ZM271.0,150.9 L271.7,148.5 L272.4,150.9ZM276.0,148.8 L276.7,144.7 L277.4,148.8ZM297.7,154.9 L298.4,159.0 L299.1,154.9ZM300.8,144.7 L301.5,139.3 L302.2,144.7ZM305.1,155.3 L305.8,157.8 L306.5,155.3ZM326.2,157.7 L326.9,161.7 L327.6,157.7ZM337.4,159.3 L338.1,162.3 L338.8,159.3ZM338.6,159.7 L339.3,162.3 L340.0,159.7ZM349.8,161.2 L350.5,163.6 L351.2,161.2ZM351.0,161.5 L351.7,164.7 L352.4,161.5ZM362.2,163.6 L362.9,168.1 L363.6,163.6ZM377.7,157.5 L378.4,154.5 L379.1,157.5ZM408.7,164.7 L409.4,161.5 L410.1,164.7ZM429.1,178.7 L429.8,181.1 L430.5,178.7ZM448.4,173.4 L449.1,169.7 L449.8,173.4ZM462.6,187.0 L463.3,192.1 L464.0,187.0ZM478.7,192.1 L479.4,195.4 L480.1,192.1ZM480.6,183.5 L481.3,180.7 L482.0,183.5ZM482.5,193.3 L483.2,196.7 L483.9,193.3ZM501.1,197.9 L501.8,202.5 L502.5,197.9ZM501.7,188.7 L502.4,184.3 L503.1,188.7ZM506.0,198.6 L506.7,203.3 L507.4,198.6ZM511.0,199.6 L511.7,202.1 L512.4,199.6ZM514.7,201.1 L515.4,205.3 L516.1,201.1ZM525.2,193.1 L525.9,188.2 L526.6,193.1ZM549.4,206.6 L550.1,211.7 L550.8,206.6ZM566.8,208.6 L567.5,212.7 L568.2,208.6ZM573.6,200.0 L574.3,196.9 L575.0,200.0ZM579.8,199.8 L580.5,196.1 L581.2,199.8ZM581.7,208.8 L582.4,212.5 L583.1,208.8ZM583.5,199.9 L584.2,196.5 L584.9,199.9ZM584.1,209.1 L584.8,211.7 L585.5,209.1ZM597.2,200.0 L597.9,195.9 L598.6,200.0ZM610.2,209.4 L610.9,212.8 L611.6,209.4ZM610.8,200.3 L611.5,196.3 L612.2,200.3ZM611.4,209.8 L612.1,213.7 L612.8,209.8ZM622.6,209.6 L623.3,213.0 L624.0,209.6ZM647.4,208.0 L648.1,213.2 L648.8,208.0ZM659.2,199.2 L659.9,196.1 L660.6,199.2ZM664.1,198.3 L664.8,193.3 L665.5,198.3ZM667.2,207.6 L667.9,210.3 L668.6,207.6ZM668.5,207.7 L669.2,212.5 L669.9,207.7ZM670.9,207.5 L671.6,210.2 L672.3,207.5ZM675.3,197.7 L676.0,192.3 L676.7,197.7ZM696.4,196.2 L697.1,192.7 L697.8,196.2ZM699.5,204.9 L700.2,207.4 L700.9,204.9ZM706.9,204.8 L707.6,210.1 L708.3,204.8Z" fill="#ff00ff" stroke="#ff00ff" stroke-width="0.5"/>
<path d="M114.7,458.0 L196.0,26.5" stroke="#000" stroke-width="1.2" stroke-dasharray="3.7 6.8" fill="none"/>
</g>
<rect x="535" y="341" width="164" height="113" fill="#fff"/>
<path d="M627.6,354.0 H685.8" stroke="#00ffff" stroke-width="1.8" fill="none" stroke-dasharray="3.4 0.9 1.2 0.9"/>
<path d="M627.6,376.0 H685.8" stroke="#ff0000" stroke-width="1.8" fill="none"/>
<path d="M627.6,398.4 H685.8" stroke="#00ff00" stroke-width="1.8" fill="none" stroke-dasharray="2.8 1.4"/>
<path d="M627.6,420.6 H685.8" stroke="#0000ff" stroke-width="1.8" fill="none" stroke-dasharray="1.3 2.1"/>
<path d="M627.6,443.0 H685.8" stroke="#ff00ff" stroke-width="1.8" fill="none" stroke-dasharray="1.1 0.85"/>
<rect x="113.5" y="26.5" width="599.0" height="431.5" fill="none" stroke="#000" stroke-width="1.3"/>
</svg>
<div class="t" style="left:66.5px;width:100px;text-align:center;top:469.6px">0</div>
<div class="t" style="left:166.3px;width:100px;text-align:center;top:469.6px">50</div>
<div class="t" style="left:266.2px;width:100px;text-align:center;top:469.6px">100</div>
<div class="t" style="left:366.0px;width:100px;text-align:center;top:469.6px">150</div>
<div class="t" style="left:465.8px;width:100px;text-align:center;top:469.6px">200</div>
<div class="t" style="left:565.7px;width:100px;text-align:center;top:469.6px">250</div>
<div class="t" style="left:665.5px;width:100px;text-align:center;top:469.6px">300</div>
<div class="t" style="left:0;width:100px;text-align:right;top:15.8px">-0.5</div>
<div class="t" style="left:0;width:100px;text-align:right;top:87.7px">-1</div>
<div class="t" style="left:0;width:100px;text-align:right;top:159.6px">-1.5</div>
<div class="t" style="left:0;width:100px;text-align:right;top:231.6px">-2</div>
<div class="t" style="left:0;width:100px;text-align:right;top:303.5px">-2.5</div>
<div class="t" style="left:0;width:100px;text-align:right;top:375.4px">-3</div>
<div class="t" style="left:0;width:100px;text-align:right;top:447.3px">-3.5</div>
<div class="t" style="left:545.2px;top:343.4px">h=0.06</div>
<div class="t" style="left:545.2px;top:365.7px">h=0.05</div>
<div class="t" style="left:545.2px;top:387.7px">h=0.04</div>
<div class="t" style="left:545.2px;top:410.0px">h=0.03</div>
<div class="t" style="left:545.2px;top:432.1px">h=0.02</div>
<div class="t" style="left:212.5px;width:400px;text-align:center;top:503px;font-size:22.5px;margin-left:1px">Time [Binary Orbits]</div>
<div class="t" style="left:-127px;width:300px;text-align:center;top:231px;font-size:22.6px;transform:rotate(-90deg);transform-origin:center center;">log (Disk Eccentricity)</div>
</div></body></html>
